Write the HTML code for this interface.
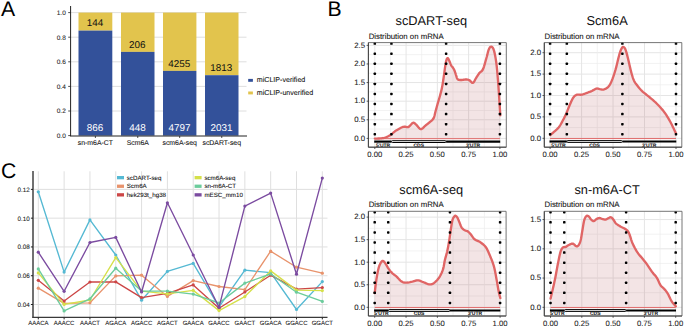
<!DOCTYPE html>
<html><head><meta charset="utf-8"><title>Figure</title>
<style>
html,body{margin:0;padding:0;background:#fff;width:685px;height:327px;overflow:hidden;}
svg{display:block;font-family:"Liberation Sans", sans-serif;text-rendering:geometricPrecision;}
</style></head>
<body>
<svg width="685" height="327" viewBox="0 0 685 327">
<rect x="0" y="0" width="685" height="327" fill="#fff"/>
<text x="0.9" y="15.9" font-size="21.2" fill="#000" text-anchor="start" >A</text>
<text x="327.6" y="15.9" font-size="21.2" fill="#000" text-anchor="start" >B</text>
<text x="1.1" y="178" font-size="21.2" fill="#000" text-anchor="start" >C</text>
<line x1="70.6" y1="111" x2="246.5" y2="111" stroke="#d6d6d6" stroke-width="0.8" />
<line x1="70.6" y1="86.4" x2="246.5" y2="86.4" stroke="#d6d6d6" stroke-width="0.8" />
<line x1="70.6" y1="61.8" x2="246.5" y2="61.8" stroke="#d6d6d6" stroke-width="0.8" />
<line x1="70.6" y1="37.2" x2="246.5" y2="37.2" stroke="#d6d6d6" stroke-width="0.8" />
<line x1="70.6" y1="12.6" x2="246.5" y2="12.6" stroke="#d6d6d6" stroke-width="0.8" />
<rect x="78.5" y="12.6" width="33.8" height="18" fill="#e2c44d" />
<rect x="78.5" y="30.6" width="33.8" height="105" fill="#33519a" />
<text x="95.1" y="131.2" font-size="9.9" fill="#fff" text-anchor="middle" >866</text>
<text x="95" y="26.4" font-size="9.9" fill="#111" text-anchor="middle" >144</text>
<text x="95.4" y="145" font-size="6.9" fill="#111" text-anchor="middle" stroke="#111" stroke-width="0.08" >sn-m6A-CT</text>
<line x1="95.4" y1="136" x2="95.4" y2="138" stroke="#222" stroke-width="0.8" />
<rect x="121" y="12.6" width="33.5" height="39.3" fill="#e2c44d" />
<rect x="121" y="51.9" width="33.5" height="83.7" fill="#33519a" />
<text x="137.45" y="131.2" font-size="9.9" fill="#fff" text-anchor="middle" >448</text>
<text x="137.35" y="47.7" font-size="9.9" fill="#111" text-anchor="middle" >206</text>
<text x="137.75" y="145" font-size="6.9" fill="#111" text-anchor="middle" stroke="#111" stroke-width="0.08" >Scm6A</text>
<line x1="137.75" y1="136" x2="137.75" y2="138" stroke="#222" stroke-width="0.8" />
<rect x="163" y="12.6" width="33.4" height="58.3" fill="#e2c44d" />
<rect x="163" y="70.9" width="33.4" height="64.7" fill="#33519a" />
<text x="179.4" y="131.2" font-size="9.9" fill="#fff" text-anchor="middle" >4797</text>
<text x="179.3" y="66.7" font-size="9.9" fill="#111" text-anchor="middle" >4255</text>
<text x="179.7" y="145" font-size="6.9" fill="#111" text-anchor="middle" stroke="#111" stroke-width="0.08" >scm6A-seq</text>
<line x1="179.7" y1="136" x2="179.7" y2="138" stroke="#222" stroke-width="0.8" />
<rect x="205" y="12.6" width="33.5" height="62.6" fill="#e2c44d" />
<rect x="205" y="75.2" width="33.5" height="60.4" fill="#33519a" />
<text x="221.45" y="131.2" font-size="9.9" fill="#fff" text-anchor="middle" >2031</text>
<text x="221.35" y="71" font-size="9.9" fill="#111" text-anchor="middle" >1813</text>
<text x="221.75" y="145" font-size="6.9" fill="#111" text-anchor="middle" stroke="#111" stroke-width="0.08" >scDART-seq</text>
<line x1="221.75" y1="136" x2="221.75" y2="138" stroke="#222" stroke-width="0.8" />
<line x1="70.6" y1="6" x2="70.6" y2="136.1" stroke="#222" stroke-width="1.0" />
<line x1="70.1" y1="136" x2="247" y2="136" stroke="#222" stroke-width="1.0" />
<line x1="68.2" y1="135.6" x2="70.6" y2="135.6" stroke="#222" stroke-width="0.8" />
<text x="65.8" y="137.9" font-size="6.5" fill="#222" text-anchor="end" stroke="#222" stroke-width="0.08" >0.0</text>
<line x1="68.2" y1="111" x2="70.6" y2="111" stroke="#222" stroke-width="0.8" />
<text x="65.8" y="113.3" font-size="6.5" fill="#222" text-anchor="end" stroke="#222" stroke-width="0.08" >0.2</text>
<line x1="68.2" y1="86.4" x2="70.6" y2="86.4" stroke="#222" stroke-width="0.8" />
<text x="65.8" y="88.7" font-size="6.5" fill="#222" text-anchor="end" stroke="#222" stroke-width="0.08" >0.4</text>
<line x1="68.2" y1="61.8" x2="70.6" y2="61.8" stroke="#222" stroke-width="0.8" />
<text x="65.8" y="64.1" font-size="6.5" fill="#222" text-anchor="end" stroke="#222" stroke-width="0.08" >0.6</text>
<line x1="68.2" y1="37.2" x2="70.6" y2="37.2" stroke="#222" stroke-width="0.8" />
<text x="65.8" y="39.5" font-size="6.5" fill="#222" text-anchor="end" stroke="#222" stroke-width="0.08" >0.8</text>
<line x1="68.2" y1="12.6" x2="70.6" y2="12.6" stroke="#222" stroke-width="0.8" />
<text x="65.8" y="14.9" font-size="6.5" fill="#222" text-anchor="end" stroke="#222" stroke-width="0.08" >1.0</text>
<rect x="248.2" y="78.9" width="4.7" height="2.9" fill="#33519a" />
<rect x="248.2" y="91.5" width="4.7" height="2.9" fill="#e2c44d" />
<text x="256.8" y="82.4" font-size="7.1" fill="#111" text-anchor="start" stroke="#111" stroke-width="0.08" >miCLIP-verified</text>
<text x="256.8" y="95" font-size="7.1" fill="#111" text-anchor="start" stroke="#111" stroke-width="0.08" >miCLIP-unverified</text>
<line x1="33.5" y1="304.5" x2="327.5" y2="304.5" stroke="#dfdfdf" stroke-width="1.0" />
<line x1="33.5" y1="275.72" x2="327.5" y2="275.72" stroke="#dfdfdf" stroke-width="1.0" />
<line x1="33.5" y1="246.94" x2="327.5" y2="246.94" stroke="#dfdfdf" stroke-width="1.0" />
<line x1="33.5" y1="218.16" x2="327.5" y2="218.16" stroke="#dfdfdf" stroke-width="1.0" />
<line x1="33.5" y1="189.38" x2="327.5" y2="189.38" stroke="#dfdfdf" stroke-width="1.0" />
<line x1="38.3" y1="171.3" x2="38.3" y2="317.2" stroke="#dfdfdf" stroke-width="1.0" />
<line x1="64.12" y1="171.3" x2="64.12" y2="317.2" stroke="#dfdfdf" stroke-width="1.0" />
<line x1="89.94" y1="171.3" x2="89.94" y2="317.2" stroke="#dfdfdf" stroke-width="1.0" />
<line x1="115.76" y1="171.3" x2="115.76" y2="317.2" stroke="#dfdfdf" stroke-width="1.0" />
<line x1="141.58" y1="171.3" x2="141.58" y2="317.2" stroke="#dfdfdf" stroke-width="1.0" />
<line x1="167.4" y1="171.3" x2="167.4" y2="317.2" stroke="#dfdfdf" stroke-width="1.0" />
<line x1="193.22" y1="171.3" x2="193.22" y2="317.2" stroke="#dfdfdf" stroke-width="1.0" />
<line x1="219.04" y1="171.3" x2="219.04" y2="317.2" stroke="#dfdfdf" stroke-width="1.0" />
<line x1="244.86" y1="171.3" x2="244.86" y2="317.2" stroke="#dfdfdf" stroke-width="1.0" />
<line x1="270.68" y1="171.3" x2="270.68" y2="317.2" stroke="#dfdfdf" stroke-width="1.0" />
<line x1="296.5" y1="171.3" x2="296.5" y2="317.2" stroke="#dfdfdf" stroke-width="1.0" />
<line x1="322.32" y1="171.3" x2="322.32" y2="317.2" stroke="#dfdfdf" stroke-width="1.0" />
<line x1="33" y1="171" x2="33" y2="317.6" stroke="#6a6a6a" stroke-width="1.9" />
<line x1="32.2" y1="317.4" x2="327.5" y2="317.4" stroke="#3a3a3a" stroke-width="1.2" />
<line x1="30.9" y1="304.5" x2="33" y2="304.5" stroke="#222" stroke-width="1.0" />
<text x="29.8" y="306.9" font-size="6.3" fill="#1a1a1a" text-anchor="end" stroke="#1a1a1a" stroke-width="0.08" >0.04</text>
<line x1="30.9" y1="275.72" x2="33" y2="275.72" stroke="#222" stroke-width="1.0" />
<text x="29.8" y="278.12" font-size="6.3" fill="#1a1a1a" text-anchor="end" stroke="#1a1a1a" stroke-width="0.08" >0.06</text>
<line x1="30.9" y1="246.94" x2="33" y2="246.94" stroke="#222" stroke-width="1.0" />
<text x="29.8" y="249.34" font-size="6.3" fill="#1a1a1a" text-anchor="end" stroke="#1a1a1a" stroke-width="0.08" >0.08</text>
<line x1="30.9" y1="218.16" x2="33" y2="218.16" stroke="#222" stroke-width="1.0" />
<text x="29.8" y="220.56" font-size="6.3" fill="#1a1a1a" text-anchor="end" stroke="#1a1a1a" stroke-width="0.08" >0.10</text>
<line x1="30.9" y1="189.38" x2="33" y2="189.38" stroke="#222" stroke-width="1.0" />
<text x="29.8" y="191.78" font-size="6.3" fill="#1a1a1a" text-anchor="end" stroke="#1a1a1a" stroke-width="0.08" >0.12</text>
<line x1="38.3" y1="317.6" x2="38.3" y2="319.4" stroke="#222" stroke-width="1.0" />
<text x="38.3" y="324.9" font-size="6.0" fill="#1a1a1a" text-anchor="middle" stroke="#1a1a1a" stroke-width="0.08" >AAACA</text>
<line x1="64.12" y1="317.6" x2="64.12" y2="319.4" stroke="#222" stroke-width="1.0" />
<text x="64.12" y="324.9" font-size="6.0" fill="#1a1a1a" text-anchor="middle" stroke="#1a1a1a" stroke-width="0.08" >AAACC</text>
<line x1="89.94" y1="317.6" x2="89.94" y2="319.4" stroke="#222" stroke-width="1.0" />
<text x="89.94" y="324.9" font-size="6.0" fill="#1a1a1a" text-anchor="middle" stroke="#1a1a1a" stroke-width="0.08" >AAACT</text>
<line x1="115.76" y1="317.6" x2="115.76" y2="319.4" stroke="#222" stroke-width="1.0" />
<text x="115.76" y="324.9" font-size="6.0" fill="#1a1a1a" text-anchor="middle" stroke="#1a1a1a" stroke-width="0.08" >AGACA</text>
<line x1="141.58" y1="317.6" x2="141.58" y2="319.4" stroke="#222" stroke-width="1.0" />
<text x="141.58" y="324.9" font-size="6.0" fill="#1a1a1a" text-anchor="middle" stroke="#1a1a1a" stroke-width="0.08" >AGACC</text>
<line x1="167.4" y1="317.6" x2="167.4" y2="319.4" stroke="#222" stroke-width="1.0" />
<text x="167.4" y="324.9" font-size="6.0" fill="#1a1a1a" text-anchor="middle" stroke="#1a1a1a" stroke-width="0.08" >AGACT</text>
<line x1="193.22" y1="317.6" x2="193.22" y2="319.4" stroke="#222" stroke-width="1.0" />
<text x="193.22" y="324.9" font-size="6.0" fill="#1a1a1a" text-anchor="middle" stroke="#1a1a1a" stroke-width="0.08" >GAACA</text>
<line x1="219.04" y1="317.6" x2="219.04" y2="319.4" stroke="#222" stroke-width="1.0" />
<text x="219.04" y="324.9" font-size="6.0" fill="#1a1a1a" text-anchor="middle" stroke="#1a1a1a" stroke-width="0.08" >GAACC</text>
<line x1="244.86" y1="317.6" x2="244.86" y2="319.4" stroke="#222" stroke-width="1.0" />
<text x="244.86" y="324.9" font-size="6.0" fill="#1a1a1a" text-anchor="middle" stroke="#1a1a1a" stroke-width="0.08" >GAACT</text>
<line x1="270.68" y1="317.6" x2="270.68" y2="319.4" stroke="#222" stroke-width="1.0" />
<text x="270.68" y="324.9" font-size="6.0" fill="#1a1a1a" text-anchor="middle" stroke="#1a1a1a" stroke-width="0.08" >GGACA</text>
<line x1="296.5" y1="317.6" x2="296.5" y2="319.4" stroke="#222" stroke-width="1.0" />
<text x="296.5" y="324.9" font-size="6.0" fill="#1a1a1a" text-anchor="middle" stroke="#1a1a1a" stroke-width="0.08" >GGACC</text>
<line x1="322.32" y1="317.6" x2="322.32" y2="319.4" stroke="#222" stroke-width="1.0" />
<text x="322.32" y="324.9" font-size="6.0" fill="#1a1a1a" text-anchor="middle" stroke="#1a1a1a" stroke-width="0.08" >GGACT</text>
<polyline points="38.3,191.8 64.12,272.1 89.94,219.9 115.76,255 141.58,300.2 167.4,271.4 193.22,263.4 219.04,306.8 244.86,270.2 270.68,272.7 296.5,309.5 322.32,281.6" fill="none" stroke="#55b9d3" stroke-width="1.35" stroke-linejoin="round"/>
<circle cx="38.3" cy="191.8" r="1.6" fill="#55b9d3"/>
<circle cx="64.12" cy="272.1" r="1.6" fill="#55b9d3"/>
<circle cx="89.94" cy="219.9" r="1.6" fill="#55b9d3"/>
<circle cx="115.76" cy="255" r="1.6" fill="#55b9d3"/>
<circle cx="141.58" cy="300.2" r="1.6" fill="#55b9d3"/>
<circle cx="167.4" cy="271.4" r="1.6" fill="#55b9d3"/>
<circle cx="193.22" cy="263.4" r="1.6" fill="#55b9d3"/>
<circle cx="219.04" cy="306.8" r="1.6" fill="#55b9d3"/>
<circle cx="244.86" cy="270.2" r="1.6" fill="#55b9d3"/>
<circle cx="270.68" cy="272.7" r="1.6" fill="#55b9d3"/>
<circle cx="296.5" cy="309.5" r="1.6" fill="#55b9d3"/>
<circle cx="322.32" cy="281.6" r="1.6" fill="#55b9d3"/>
<polyline points="38.3,288.2 64.12,303.4 89.94,302.8 115.76,275.9 141.58,275.2 167.4,296.4 193.22,280.6 219.04,286.5 244.86,289.7 270.68,251.2 296.5,267.2 322.32,273.2" fill="none" stroke="#e8936c" stroke-width="1.35" stroke-linejoin="round"/>
<circle cx="38.3" cy="288.2" r="1.6" fill="#e8936c"/>
<circle cx="64.12" cy="303.4" r="1.6" fill="#e8936c"/>
<circle cx="89.94" cy="302.8" r="1.6" fill="#e8936c"/>
<circle cx="115.76" cy="275.9" r="1.6" fill="#e8936c"/>
<circle cx="141.58" cy="275.2" r="1.6" fill="#e8936c"/>
<circle cx="167.4" cy="296.4" r="1.6" fill="#e8936c"/>
<circle cx="193.22" cy="280.6" r="1.6" fill="#e8936c"/>
<circle cx="219.04" cy="286.5" r="1.6" fill="#e8936c"/>
<circle cx="244.86" cy="289.7" r="1.6" fill="#e8936c"/>
<circle cx="270.68" cy="251.2" r="1.6" fill="#e8936c"/>
<circle cx="296.5" cy="267.2" r="1.6" fill="#e8936c"/>
<circle cx="322.32" cy="273.2" r="1.6" fill="#e8936c"/>
<polyline points="38.3,280.3 64.12,301 89.94,282 115.76,281.8 141.58,297.6 167.4,293.4 193.22,284.9 219.04,308.3 244.86,292 270.68,275.2 296.5,289.2 322.32,287.6" fill="none" stroke="#cc4646" stroke-width="1.35" stroke-linejoin="round"/>
<circle cx="38.3" cy="280.3" r="1.6" fill="#cc4646"/>
<circle cx="64.12" cy="301" r="1.6" fill="#cc4646"/>
<circle cx="89.94" cy="282" r="1.6" fill="#cc4646"/>
<circle cx="115.76" cy="281.8" r="1.6" fill="#cc4646"/>
<circle cx="141.58" cy="297.6" r="1.6" fill="#cc4646"/>
<circle cx="167.4" cy="293.4" r="1.6" fill="#cc4646"/>
<circle cx="193.22" cy="284.9" r="1.6" fill="#cc4646"/>
<circle cx="219.04" cy="308.3" r="1.6" fill="#cc4646"/>
<circle cx="244.86" cy="292" r="1.6" fill="#cc4646"/>
<circle cx="270.68" cy="275.2" r="1.6" fill="#cc4646"/>
<circle cx="296.5" cy="289.2" r="1.6" fill="#cc4646"/>
<circle cx="322.32" cy="287.6" r="1.6" fill="#cc4646"/>
<polyline points="38.3,272.9 64.12,304.4 89.94,300 115.76,257.6 141.58,291.2 167.4,293.9 193.22,290.4 219.04,310.6 244.86,296.6 270.68,270.9 296.5,290.1 322.32,290.6" fill="none" stroke="#d5e04a" stroke-width="1.35" stroke-linejoin="round"/>
<circle cx="38.3" cy="272.9" r="1.6" fill="#d5e04a"/>
<circle cx="64.12" cy="304.4" r="1.6" fill="#d5e04a"/>
<circle cx="89.94" cy="300" r="1.6" fill="#d5e04a"/>
<circle cx="115.76" cy="257.6" r="1.6" fill="#d5e04a"/>
<circle cx="141.58" cy="291.2" r="1.6" fill="#d5e04a"/>
<circle cx="167.4" cy="293.9" r="1.6" fill="#d5e04a"/>
<circle cx="193.22" cy="290.4" r="1.6" fill="#d5e04a"/>
<circle cx="219.04" cy="310.6" r="1.6" fill="#d5e04a"/>
<circle cx="244.86" cy="296.6" r="1.6" fill="#d5e04a"/>
<circle cx="270.68" cy="270.9" r="1.6" fill="#d5e04a"/>
<circle cx="296.5" cy="290.1" r="1.6" fill="#d5e04a"/>
<circle cx="322.32" cy="290.6" r="1.6" fill="#d5e04a"/>
<polyline points="38.3,268.9 64.12,310.9 89.94,298.8 115.76,268.2 141.58,291 167.4,291.1 193.22,294.1 219.04,303 244.86,283.1 270.68,274 296.5,292.2 322.32,301.4" fill="none" stroke="#6ccc9c" stroke-width="1.35" stroke-linejoin="round"/>
<circle cx="38.3" cy="268.9" r="1.6" fill="#6ccc9c"/>
<circle cx="64.12" cy="310.9" r="1.6" fill="#6ccc9c"/>
<circle cx="89.94" cy="298.8" r="1.6" fill="#6ccc9c"/>
<circle cx="115.76" cy="268.2" r="1.6" fill="#6ccc9c"/>
<circle cx="141.58" cy="291" r="1.6" fill="#6ccc9c"/>
<circle cx="167.4" cy="291.1" r="1.6" fill="#6ccc9c"/>
<circle cx="193.22" cy="294.1" r="1.6" fill="#6ccc9c"/>
<circle cx="219.04" cy="303" r="1.6" fill="#6ccc9c"/>
<circle cx="244.86" cy="283.1" r="1.6" fill="#6ccc9c"/>
<circle cx="270.68" cy="274" r="1.6" fill="#6ccc9c"/>
<circle cx="296.5" cy="292.2" r="1.6" fill="#6ccc9c"/>
<circle cx="322.32" cy="301.4" r="1.6" fill="#6ccc9c"/>
<polyline points="38.3,252.2 64.12,291.3 89.94,242.5 115.76,237.4 141.58,292 167.4,202.8 193.22,255 219.04,307.2 244.86,206.1 270.68,193.1 296.5,274.2 322.32,178.1" fill="none" stroke="#7b4ba0" stroke-width="1.35" stroke-linejoin="round"/>
<circle cx="38.3" cy="252.2" r="1.6" fill="#7b4ba0"/>
<circle cx="64.12" cy="291.3" r="1.6" fill="#7b4ba0"/>
<circle cx="89.94" cy="242.5" r="1.6" fill="#7b4ba0"/>
<circle cx="115.76" cy="237.4" r="1.6" fill="#7b4ba0"/>
<circle cx="141.58" cy="292" r="1.6" fill="#7b4ba0"/>
<circle cx="167.4" cy="202.8" r="1.6" fill="#7b4ba0"/>
<circle cx="193.22" cy="255" r="1.6" fill="#7b4ba0"/>
<circle cx="219.04" cy="307.2" r="1.6" fill="#7b4ba0"/>
<circle cx="244.86" cy="206.1" r="1.6" fill="#7b4ba0"/>
<circle cx="270.68" cy="193.1" r="1.6" fill="#7b4ba0"/>
<circle cx="296.5" cy="274.2" r="1.6" fill="#7b4ba0"/>
<circle cx="322.32" cy="178.1" r="1.6" fill="#7b4ba0"/>
<rect x="117" y="176" width="7" height="3.3" fill="#55b9d3" />
<text x="126.8" y="179.7" font-size="6.2" fill="#111" text-anchor="start" stroke="#111" stroke-width="0.08" >scDART-seq</text>
<rect x="117" y="184.6" width="7" height="3.3" fill="#e8936c" />
<text x="126.8" y="188.3" font-size="6.2" fill="#111" text-anchor="start" stroke="#111" stroke-width="0.08" >Scm6A</text>
<rect x="117" y="193.2" width="7" height="3.3" fill="#cc4646" />
<text x="126.8" y="196.9" font-size="6.2" fill="#111" text-anchor="start" stroke="#111" stroke-width="0.08" >hek293t_hg38</text>
<rect x="194.6" y="176" width="7" height="3.3" fill="#d5e04a" />
<text x="204.4" y="179.7" font-size="6.2" fill="#111" text-anchor="start" stroke="#111" stroke-width="0.08" >scm6A-seq</text>
<rect x="194.6" y="184.6" width="7" height="3.3" fill="#6ccc9c" />
<text x="204.4" y="188.3" font-size="6.2" fill="#111" text-anchor="start" stroke="#111" stroke-width="0.08" >sn-m6A-CT</text>
<rect x="194.6" y="193.2" width="7" height="3.3" fill="#7b4ba0" />
<text x="204.4" y="196.9" font-size="6.2" fill="#111" text-anchor="start" stroke="#111" stroke-width="0.08" >mESC_mm10</text>
<text x="431.35" y="24.6" font-size="12.8" fill="#111" text-anchor="middle" >scDART-seq</text>
<text x="368.7" y="38.6" font-size="7.8" fill="#111" text-anchor="start" stroke="#111" stroke-width="0.08" >Distribution on mRNA</text>
<line x1="368.4" y1="138.4" x2="506.3" y2="138.4" stroke="#e5e5e5" stroke-width="1.0" />
<line x1="368.4" y1="129.09" x2="506.3" y2="129.09" stroke="#ececec" stroke-width="0.7" />
<line x1="368.4" y1="119.79" x2="506.3" y2="119.79" stroke="#e5e5e5" stroke-width="1.0" />
<line x1="368.4" y1="110.49" x2="506.3" y2="110.49" stroke="#ececec" stroke-width="0.7" />
<line x1="368.4" y1="101.18" x2="506.3" y2="101.18" stroke="#e5e5e5" stroke-width="1.0" />
<line x1="368.4" y1="91.88" x2="506.3" y2="91.88" stroke="#ececec" stroke-width="0.7" />
<line x1="368.4" y1="82.57" x2="506.3" y2="82.57" stroke="#e5e5e5" stroke-width="1.0" />
<line x1="368.4" y1="73.27" x2="506.3" y2="73.27" stroke="#ececec" stroke-width="0.7" />
<line x1="368.4" y1="63.96" x2="506.3" y2="63.96" stroke="#e5e5e5" stroke-width="1.0" />
<line x1="368.4" y1="54.66" x2="506.3" y2="54.66" stroke="#ececec" stroke-width="0.7" />
<line x1="368.4" y1="45.35" x2="506.3" y2="45.35" stroke="#e5e5e5" stroke-width="1.0" />
<line x1="374.8" y1="42.6" x2="374.8" y2="147.2" stroke="#e5e5e5" stroke-width="1.0" />
<line x1="390.44" y1="42.6" x2="390.44" y2="147.2" stroke="#ececec" stroke-width="0.7" />
<line x1="406.07" y1="42.6" x2="406.07" y2="147.2" stroke="#e5e5e5" stroke-width="1.0" />
<line x1="421.71" y1="42.6" x2="421.71" y2="147.2" stroke="#ececec" stroke-width="0.7" />
<line x1="437.35" y1="42.6" x2="437.35" y2="147.2" stroke="#e5e5e5" stroke-width="1.0" />
<line x1="452.99" y1="42.6" x2="452.99" y2="147.2" stroke="#ececec" stroke-width="0.7" />
<line x1="468.62" y1="42.6" x2="468.62" y2="147.2" stroke="#e5e5e5" stroke-width="1.0" />
<line x1="484.26" y1="42.6" x2="484.26" y2="147.2" stroke="#ececec" stroke-width="0.7" />
<line x1="499.9" y1="42.6" x2="499.9" y2="147.2" stroke="#e5e5e5" stroke-width="1.0" />
<path d="M374.8,138.6 L375.37,138.59 L376.15,138.57 L377.08,138.55 L378.08,138.52 L379.08,138.47 L380,138.4 L380.85,138.32 L381.7,138.25 L382.54,138.16 L383.39,138.03 L384.24,137.85 L385.1,137.6 L385.97,137.28 L386.84,136.9 L387.72,136.47 L388.6,135.99 L389.5,135.46 L390.4,134.9 L391.3,134.27 L392.18,133.57 L393.07,132.82 L394,132.06 L394.96,131.31 L396,130.6 L397.14,129.89 L398.39,129.15 L399.68,128.42 L400.97,127.75 L402.19,127.2 L403.3,126.8 L404.28,126.65 L405.18,126.73 L406.02,126.92 L406.82,127.11 L407.6,127.17 L408.4,127 L409.21,126.48 L410.02,125.7 L410.82,124.79 L411.59,123.91 L412.32,123.2 L413,122.8 L413.6,122.73 L414.12,122.89 L414.6,123.21 L415.08,123.66 L415.6,124.17 L416.2,124.7 L416.89,125.38 L417.63,126.27 L418.41,127.24 L419.21,128.13 L420.02,128.79 L420.8,129.1 L421.57,128.98 L422.33,128.53 L423.1,127.86 L423.87,127.07 L424.63,126.29 L425.4,125.6 L426.18,124.99 L426.97,124.38 L427.76,123.76 L428.54,123.14 L429.29,122.52 L430,121.9 L430.68,121.33 L431.33,120.81 L431.96,120.29 L432.55,119.71 L433.1,119.04 L433.6,118.2 L434.04,117.17 L434.41,115.98 L434.74,114.69 L435.06,113.34 L435.37,111.99 L435.7,110.7 L436.05,109.45 L436.4,108.2 L436.74,106.95 L437.09,105.7 L437.44,104.45 L437.8,103.2 L438.16,101.96 L438.53,100.74 L438.9,99.52 L439.27,98.28 L439.64,97.01 L440,95.7 L440.36,94.35 L440.72,92.99 L441.08,91.6 L441.43,90.16 L441.77,88.67 L442.1,87.1 L442.41,85.44 L442.7,83.69 L442.99,81.88 L443.26,80.04 L443.53,78.21 L443.8,76.4 L444.07,74.56 L444.33,72.66 L444.58,70.75 L444.83,68.91 L445.07,67.21 L445.3,65.7 L445.52,64.39 L445.72,63.22 L445.91,62.18 L446.1,61.27 L446.3,60.48 L446.5,59.8 L446.71,59.23 L446.91,58.77 L447.12,58.44 L447.33,58.23 L447.56,58.14 L447.8,58.2 L448.06,58.43 L448.34,58.85 L448.63,59.39 L448.92,60.02 L449.21,60.67 L449.5,61.3 L449.78,61.95 L450.07,62.66 L450.35,63.41 L450.63,64.14 L450.92,64.82 L451.2,65.4 L451.48,65.87 L451.77,66.24 L452.06,66.57 L452.34,66.88 L452.62,67.21 L452.9,67.6 L453.17,68.03 L453.44,68.48 L453.71,68.94 L453.97,69.44 L454.23,69.99 L454.5,70.6 L454.77,71.29 L455.03,72.07 L455.3,72.89 L455.57,73.72 L455.83,74.54 L456.1,75.3 L456.35,76.05 L456.57,76.81 L456.79,77.55 L457.03,78.24 L457.33,78.83 L457.7,79.3 L458.14,79.62 L458.64,79.82 L459.19,79.93 L459.78,79.98 L460.42,79.99 L461.1,80 L461.86,79.97 L462.71,79.87 L463.6,79.74 L464.49,79.61 L465.34,79.52 L466.1,79.5 L466.76,79.54 L467.35,79.6 L467.9,79.71 L468.43,79.85 L468.95,80.05 L469.5,80.3 L470.07,80.72 L470.64,81.32 L471.21,81.97 L471.77,82.54 L472.34,82.89 L472.9,82.9 L473.45,82.49 L474,81.77 L474.55,80.83 L475.1,79.78 L475.65,78.73 L476.2,77.8 L476.76,76.94 L477.33,76.07 L477.9,75.19 L478.47,74.34 L479.04,73.54 L479.6,72.8 L480.15,72.23 L480.7,71.83 L481.25,71.47 L481.8,71.03 L482.35,70.38 L482.9,69.4 L483.47,68 L484.06,66.26 L484.65,64.31 L485.23,62.28 L485.78,60.3 L486.3,58.5 L486.77,56.81 L487.2,55.1 L487.61,53.44 L488,51.89 L488.39,50.53 L488.8,49.4 L489.22,48.51 L489.63,47.79 L490.04,47.26 L490.46,46.9 L490.88,46.71 L491.3,46.7 L491.73,46.82 L492.16,47.08 L492.6,47.51 L493.04,48.16 L493.47,49.07 L493.9,50.3 L494.33,51.88 L494.77,53.79 L495.21,55.97 L495.63,58.35 L496.03,60.88 L496.4,63.5 L496.74,66.31 L497.05,69.37 L497.34,72.58 L497.61,75.82 L497.86,79 L498.1,82 L498.32,84.8 L498.51,87.47 L498.69,90.08 L498.86,92.67 L499.02,95.29 L499.2,98 L499.4,101 L499.61,104.28 L499.82,107.6 L500.01,110.7 L500.18,113.31 L500.3,115.2 L500.3,138.4 L374.8,138.4 Z" fill="#af4b52" fill-opacity="0.15" stroke="none"/>
<line x1="374.8" y1="138.7" x2="499.9" y2="138.7" stroke="#e06565" stroke-width="1.0" />
<path d="M374.8,138.6 L375.37,138.59 L376.15,138.57 L377.08,138.55 L378.08,138.52 L379.08,138.47 L380,138.4 L380.85,138.32 L381.7,138.25 L382.54,138.16 L383.39,138.03 L384.24,137.85 L385.1,137.6 L385.97,137.28 L386.84,136.9 L387.72,136.47 L388.6,135.99 L389.5,135.46 L390.4,134.9 L391.3,134.27 L392.18,133.57 L393.07,132.82 L394,132.06 L394.96,131.31 L396,130.6 L397.14,129.89 L398.39,129.15 L399.68,128.42 L400.97,127.75 L402.19,127.2 L403.3,126.8 L404.28,126.65 L405.18,126.73 L406.02,126.92 L406.82,127.11 L407.6,127.17 L408.4,127 L409.21,126.48 L410.02,125.7 L410.82,124.79 L411.59,123.91 L412.32,123.2 L413,122.8 L413.6,122.73 L414.12,122.89 L414.6,123.21 L415.08,123.66 L415.6,124.17 L416.2,124.7 L416.89,125.38 L417.63,126.27 L418.41,127.24 L419.21,128.13 L420.02,128.79 L420.8,129.1 L421.57,128.98 L422.33,128.53 L423.1,127.86 L423.87,127.07 L424.63,126.29 L425.4,125.6 L426.18,124.99 L426.97,124.38 L427.76,123.76 L428.54,123.14 L429.29,122.52 L430,121.9 L430.68,121.33 L431.33,120.81 L431.96,120.29 L432.55,119.71 L433.1,119.04 L433.6,118.2 L434.04,117.17 L434.41,115.98 L434.74,114.69 L435.06,113.34 L435.37,111.99 L435.7,110.7 L436.05,109.45 L436.4,108.2 L436.74,106.95 L437.09,105.7 L437.44,104.45 L437.8,103.2 L438.16,101.96 L438.53,100.74 L438.9,99.52 L439.27,98.28 L439.64,97.01 L440,95.7 L440.36,94.35 L440.72,92.99 L441.08,91.6 L441.43,90.16 L441.77,88.67 L442.1,87.1 L442.41,85.44 L442.7,83.69 L442.99,81.88 L443.26,80.04 L443.53,78.21 L443.8,76.4 L444.07,74.56 L444.33,72.66 L444.58,70.75 L444.83,68.91 L445.07,67.21 L445.3,65.7 L445.52,64.39 L445.72,63.22 L445.91,62.18 L446.1,61.27 L446.3,60.48 L446.5,59.8 L446.71,59.23 L446.91,58.77 L447.12,58.44 L447.33,58.23 L447.56,58.14 L447.8,58.2 L448.06,58.43 L448.34,58.85 L448.63,59.39 L448.92,60.02 L449.21,60.67 L449.5,61.3 L449.78,61.95 L450.07,62.66 L450.35,63.41 L450.63,64.14 L450.92,64.82 L451.2,65.4 L451.48,65.87 L451.77,66.24 L452.06,66.57 L452.34,66.88 L452.62,67.21 L452.9,67.6 L453.17,68.03 L453.44,68.48 L453.71,68.94 L453.97,69.44 L454.23,69.99 L454.5,70.6 L454.77,71.29 L455.03,72.07 L455.3,72.89 L455.57,73.72 L455.83,74.54 L456.1,75.3 L456.35,76.05 L456.57,76.81 L456.79,77.55 L457.03,78.24 L457.33,78.83 L457.7,79.3 L458.14,79.62 L458.64,79.82 L459.19,79.93 L459.78,79.98 L460.42,79.99 L461.1,80 L461.86,79.97 L462.71,79.87 L463.6,79.74 L464.49,79.61 L465.34,79.52 L466.1,79.5 L466.76,79.54 L467.35,79.6 L467.9,79.71 L468.43,79.85 L468.95,80.05 L469.5,80.3 L470.07,80.72 L470.64,81.32 L471.21,81.97 L471.77,82.54 L472.34,82.89 L472.9,82.9 L473.45,82.49 L474,81.77 L474.55,80.83 L475.1,79.78 L475.65,78.73 L476.2,77.8 L476.76,76.94 L477.33,76.07 L477.9,75.19 L478.47,74.34 L479.04,73.54 L479.6,72.8 L480.15,72.23 L480.7,71.83 L481.25,71.47 L481.8,71.03 L482.35,70.38 L482.9,69.4 L483.47,68 L484.06,66.26 L484.65,64.31 L485.23,62.28 L485.78,60.3 L486.3,58.5 L486.77,56.81 L487.2,55.1 L487.61,53.44 L488,51.89 L488.39,50.53 L488.8,49.4 L489.22,48.51 L489.63,47.79 L490.04,47.26 L490.46,46.9 L490.88,46.71 L491.3,46.7 L491.73,46.82 L492.16,47.08 L492.6,47.51 L493.04,48.16 L493.47,49.07 L493.9,50.3 L494.33,51.88 L494.77,53.79 L495.21,55.97 L495.63,58.35 L496.03,60.88 L496.4,63.5 L496.74,66.31 L497.05,69.37 L497.34,72.58 L497.61,75.82 L497.86,79 L498.1,82 L498.32,84.8 L498.51,87.47 L498.69,90.08 L498.86,92.67 L499.02,95.29 L499.2,98 L499.4,101 L499.61,104.28 L499.82,107.6 L500.01,110.7 L500.18,113.31 L500.3,115.2" fill="none" stroke="#e06565" stroke-width="2.35" stroke-linejoin="round" stroke-linecap="round"/>
<rect x="373.55" y="42.35" width="2.5" height="2.5" rx="0.7" fill="#000"/>
<rect x="373.55" y="52.42" width="2.5" height="2.5" rx="0.7" fill="#000"/>
<rect x="373.55" y="62.49" width="2.5" height="2.5" rx="0.7" fill="#000"/>
<rect x="373.55" y="72.56" width="2.5" height="2.5" rx="0.7" fill="#000"/>
<rect x="373.55" y="82.63" width="2.5" height="2.5" rx="0.7" fill="#000"/>
<rect x="373.55" y="92.7" width="2.5" height="2.5" rx="0.7" fill="#000"/>
<rect x="373.55" y="102.77" width="2.5" height="2.5" rx="0.7" fill="#000"/>
<rect x="373.55" y="112.84" width="2.5" height="2.5" rx="0.7" fill="#000"/>
<rect x="373.55" y="122.91" width="2.5" height="2.5" rx="0.7" fill="#000"/>
<rect x="373.55" y="132.98" width="2.5" height="2.5" rx="0.7" fill="#000"/>
<rect x="390.19" y="42.35" width="2.5" height="2.5" rx="0.7" fill="#000"/>
<rect x="390.19" y="52.42" width="2.5" height="2.5" rx="0.7" fill="#000"/>
<rect x="390.19" y="62.49" width="2.5" height="2.5" rx="0.7" fill="#000"/>
<rect x="390.19" y="72.56" width="2.5" height="2.5" rx="0.7" fill="#000"/>
<rect x="390.19" y="82.63" width="2.5" height="2.5" rx="0.7" fill="#000"/>
<rect x="390.19" y="92.7" width="2.5" height="2.5" rx="0.7" fill="#000"/>
<rect x="390.19" y="102.77" width="2.5" height="2.5" rx="0.7" fill="#000"/>
<rect x="390.19" y="112.84" width="2.5" height="2.5" rx="0.7" fill="#000"/>
<rect x="390.19" y="122.91" width="2.5" height="2.5" rx="0.7" fill="#000"/>
<rect x="390.19" y="132.98" width="2.5" height="2.5" rx="0.7" fill="#000"/>
<rect x="444.86" y="42.35" width="2.5" height="2.5" rx="0.7" fill="#000"/>
<rect x="444.86" y="52.42" width="2.5" height="2.5" rx="0.7" fill="#000"/>
<rect x="444.86" y="62.49" width="2.5" height="2.5" rx="0.7" fill="#000"/>
<rect x="444.86" y="72.56" width="2.5" height="2.5" rx="0.7" fill="#000"/>
<rect x="444.86" y="82.63" width="2.5" height="2.5" rx="0.7" fill="#000"/>
<rect x="444.86" y="92.7" width="2.5" height="2.5" rx="0.7" fill="#000"/>
<rect x="444.86" y="102.77" width="2.5" height="2.5" rx="0.7" fill="#000"/>
<rect x="444.86" y="112.84" width="2.5" height="2.5" rx="0.7" fill="#000"/>
<rect x="444.86" y="122.91" width="2.5" height="2.5" rx="0.7" fill="#000"/>
<rect x="444.86" y="132.98" width="2.5" height="2.5" rx="0.7" fill="#000"/>
<rect x="498.65" y="42.35" width="2.5" height="2.5" rx="0.7" fill="#000"/>
<rect x="498.65" y="52.42" width="2.5" height="2.5" rx="0.7" fill="#000"/>
<rect x="498.65" y="62.49" width="2.5" height="2.5" rx="0.7" fill="#000"/>
<rect x="498.65" y="72.56" width="2.5" height="2.5" rx="0.7" fill="#000"/>
<rect x="498.65" y="82.63" width="2.5" height="2.5" rx="0.7" fill="#000"/>
<rect x="498.65" y="92.7" width="2.5" height="2.5" rx="0.7" fill="#000"/>
<rect x="498.65" y="102.77" width="2.5" height="2.5" rx="0.7" fill="#000"/>
<rect x="498.65" y="112.84" width="2.5" height="2.5" rx="0.7" fill="#000"/>
<rect x="498.65" y="122.91" width="2.5" height="2.5" rx="0.7" fill="#000"/>
<rect x="498.65" y="132.98" width="2.5" height="2.5" rx="0.7" fill="#000"/>
<line x1="374.2" y1="141.6" x2="391.44" y2="141.6" stroke="#000" stroke-width="2.2" />
<line x1="446.11" y1="141.6" x2="500.2" y2="141.6" stroke="#000" stroke-width="2.2" />
<rect x="391.44" y="140.7" width="54.67" height="1.8" rx="0.9" fill="#fff" stroke="#000" stroke-width="1.0"/>
<text x="383.12" y="146.6" font-size="5.0" fill="#222" text-anchor="middle" stroke="#222" stroke-width="0.08" font-weight="bold">5'UTR</text>
<text x="418.77" y="146.6" font-size="5.0" fill="#222" text-anchor="middle" stroke="#222" stroke-width="0.08" font-weight="bold">CDS</text>
<text x="473" y="146.6" font-size="5.0" fill="#222" text-anchor="middle" stroke="#222" stroke-width="0.08" font-weight="bold">3'UTR</text>
<path d="M368.4,147.2 L368.4,42.6 L506.3,42.6 L506.3,147.2 Z" fill="none" stroke="#666" stroke-width="0.9"/>
<line x1="368.4" y1="147.2" x2="506.3" y2="147.2" stroke="#444" stroke-width="1.0" />
<line x1="368.4" y1="42.6" x2="368.4" y2="147.2" stroke="#444" stroke-width="1.0" />
<line x1="366.6" y1="138.4" x2="368.4" y2="138.4" stroke="#333" stroke-width="0.8" />
<text x="365.1" y="140.7" font-size="7.8" fill="#222" text-anchor="end" stroke="#222" stroke-width="0.08" >0.0</text>
<line x1="366.6" y1="119.79" x2="368.4" y2="119.79" stroke="#333" stroke-width="0.8" />
<text x="365.1" y="122.09" font-size="7.8" fill="#222" text-anchor="end" stroke="#222" stroke-width="0.08" >0.5</text>
<line x1="366.6" y1="101.18" x2="368.4" y2="101.18" stroke="#333" stroke-width="0.8" />
<text x="365.1" y="103.48" font-size="7.8" fill="#222" text-anchor="end" stroke="#222" stroke-width="0.08" >1.0</text>
<line x1="366.6" y1="82.57" x2="368.4" y2="82.57" stroke="#333" stroke-width="0.8" />
<text x="365.1" y="84.87" font-size="7.8" fill="#222" text-anchor="end" stroke="#222" stroke-width="0.08" >1.5</text>
<line x1="366.6" y1="63.96" x2="368.4" y2="63.96" stroke="#333" stroke-width="0.8" />
<text x="365.1" y="66.26" font-size="7.8" fill="#222" text-anchor="end" stroke="#222" stroke-width="0.08" >2.0</text>
<line x1="366.6" y1="45.35" x2="368.4" y2="45.35" stroke="#333" stroke-width="0.8" />
<text x="365.1" y="47.65" font-size="7.8" fill="#222" text-anchor="end" stroke="#222" stroke-width="0.08" >2.5</text>
<line x1="374.8" y1="147.2" x2="374.8" y2="149" stroke="#333" stroke-width="0.8" />
<text x="374.8" y="156.9" font-size="7.7" fill="#222" text-anchor="middle" stroke="#222" stroke-width="0.08" >0.00</text>
<line x1="406.07" y1="147.2" x2="406.07" y2="149" stroke="#333" stroke-width="0.8" />
<text x="406.07" y="156.9" font-size="7.7" fill="#222" text-anchor="middle" stroke="#222" stroke-width="0.08" >0.25</text>
<line x1="437.35" y1="147.2" x2="437.35" y2="149" stroke="#333" stroke-width="0.8" />
<text x="437.35" y="156.9" font-size="7.7" fill="#222" text-anchor="middle" stroke="#222" stroke-width="0.08" >0.50</text>
<line x1="468.62" y1="147.2" x2="468.62" y2="149" stroke="#333" stroke-width="0.8" />
<text x="468.62" y="156.9" font-size="7.7" fill="#222" text-anchor="middle" stroke="#222" stroke-width="0.08" >0.75</text>
<line x1="499.9" y1="147.2" x2="499.9" y2="149" stroke="#333" stroke-width="0.8" />
<text x="499.9" y="156.9" font-size="7.7" fill="#222" text-anchor="middle" stroke="#222" stroke-width="0.08" >1.00</text>
<text x="607.05" y="24.6" font-size="12.8" fill="#111" text-anchor="middle" >Scm6A</text>
<text x="544.6" y="38.6" font-size="7.8" fill="#111" text-anchor="start" stroke="#111" stroke-width="0.08" >Distribution on mRNA</text>
<line x1="544.3" y1="138.3" x2="681.8" y2="138.3" stroke="#e5e5e5" stroke-width="1.0" />
<line x1="544.3" y1="127.6" x2="681.8" y2="127.6" stroke="#ececec" stroke-width="0.7" />
<line x1="544.3" y1="116.9" x2="681.8" y2="116.9" stroke="#e5e5e5" stroke-width="1.0" />
<line x1="544.3" y1="106.2" x2="681.8" y2="106.2" stroke="#ececec" stroke-width="0.7" />
<line x1="544.3" y1="95.5" x2="681.8" y2="95.5" stroke="#e5e5e5" stroke-width="1.0" />
<line x1="544.3" y1="84.8" x2="681.8" y2="84.8" stroke="#ececec" stroke-width="0.7" />
<line x1="544.3" y1="74.1" x2="681.8" y2="74.1" stroke="#e5e5e5" stroke-width="1.0" />
<line x1="544.3" y1="63.4" x2="681.8" y2="63.4" stroke="#ececec" stroke-width="0.7" />
<line x1="544.3" y1="52.7" x2="681.8" y2="52.7" stroke="#e5e5e5" stroke-width="1.0" />
<line x1="550.1" y1="42.6" x2="550.1" y2="147.2" stroke="#e5e5e5" stroke-width="1.0" />
<line x1="565.84" y1="42.6" x2="565.84" y2="147.2" stroke="#ececec" stroke-width="0.7" />
<line x1="581.58" y1="42.6" x2="581.58" y2="147.2" stroke="#e5e5e5" stroke-width="1.0" />
<line x1="597.31" y1="42.6" x2="597.31" y2="147.2" stroke="#ececec" stroke-width="0.7" />
<line x1="613.05" y1="42.6" x2="613.05" y2="147.2" stroke="#e5e5e5" stroke-width="1.0" />
<line x1="628.79" y1="42.6" x2="628.79" y2="147.2" stroke="#ececec" stroke-width="0.7" />
<line x1="644.52" y1="42.6" x2="644.52" y2="147.2" stroke="#e5e5e5" stroke-width="1.0" />
<line x1="660.26" y1="42.6" x2="660.26" y2="147.2" stroke="#ececec" stroke-width="0.7" />
<line x1="676" y1="42.6" x2="676" y2="147.2" stroke="#e5e5e5" stroke-width="1.0" />
<path d="M550.3,135 L550.72,134.65 L551.29,134.19 L551.96,133.62 L552.7,133 L553.46,132.35 L554.2,131.7 L554.94,131.05 L555.72,130.37 L556.52,129.67 L557.31,128.93 L558.08,128.14 L558.8,127.3 L559.46,126.41 L560.07,125.47 L560.66,124.49 L561.23,123.46 L561.81,122.4 L562.4,121.3 L563.01,120.17 L563.63,119 L564.24,117.79 L564.86,116.54 L565.48,115.25 L566.1,113.9 L566.72,112.46 L567.34,110.93 L567.96,109.35 L568.57,107.77 L569.19,106.24 L569.8,104.8 L570.4,103.41 L571,102.03 L571.6,100.7 L572.2,99.46 L572.8,98.34 L573.4,97.4 L574,96.65 L574.59,96.05 L575.19,95.59 L575.8,95.23 L576.43,94.94 L577.1,94.7 L577.8,94.57 L578.53,94.57 L579.29,94.65 L580.07,94.74 L580.87,94.78 L581.7,94.7 L582.58,94.49 L583.5,94.2 L584.45,93.86 L585.4,93.5 L586.33,93.13 L587.2,92.8 L588.02,92.5 L588.8,92.21 L589.56,91.93 L590.3,91.64 L591.04,91.33 L591.8,91 L592.58,90.6 L593.37,90.13 L594.16,89.65 L594.94,89.2 L595.69,88.83 L596.4,88.6 L597.06,88.53 L597.67,88.59 L598.26,88.73 L598.83,88.91 L599.41,89.08 L600,89.2 L600.6,89.3 L601.19,89.43 L601.79,89.56 L602.4,89.63 L603.03,89.63 L603.7,89.5 L604.43,89.27 L605.2,88.96 L606.01,88.57 L606.81,88.09 L607.58,87.5 L608.3,86.8 L608.96,86 L609.57,85.11 L610.16,84.12 L610.73,83.01 L611.31,81.78 L611.9,80.4 L612.51,78.88 L613.13,77.21 L613.74,75.42 L614.36,73.51 L614.98,71.5 L615.6,69.4 L616.23,67.07 L616.88,64.47 L617.53,61.76 L618.16,59.12 L618.76,56.71 L619.3,54.7 L619.78,53.09 L620.22,51.76 L620.62,50.66 L620.99,49.75 L621.35,48.98 L621.7,48.3 L622.03,47.74 L622.33,47.33 L622.61,47.06 L622.89,46.92 L623.18,46.9 L623.5,47 L623.84,47.18 L624.19,47.45 L624.54,47.84 L624.91,48.39 L625.3,49.13 L625.7,50.1 L626.12,51.36 L626.56,52.88 L627.01,54.6 L627.47,56.44 L627.94,58.33 L628.4,60.2 L628.86,62.12 L629.33,64.17 L629.8,66.26 L630.27,68.33 L630.74,70.3 L631.2,72.1 L631.65,73.73 L632.1,75.27 L632.54,76.71 L632.98,78.04 L633.43,79.27 L633.9,80.4 L634.36,81.37 L634.8,82.16 L635.26,82.85 L635.74,83.51 L636.28,84.2 L636.9,85 L637.61,85.92 L638.38,86.9 L639.21,87.92 L640.09,88.95 L640.99,89.95 L641.9,90.9 L642.84,91.79 L643.83,92.64 L644.84,93.46 L645.87,94.27 L646.89,95.08 L647.9,95.9 L648.89,96.71 L649.87,97.5 L650.85,98.29 L651.83,99.09 L652.81,99.92 L653.8,100.8 L654.81,101.74 L655.83,102.72 L656.86,103.74 L657.88,104.77 L658.86,105.79 L659.8,106.8 L660.68,107.76 L661.51,108.7 L662.31,109.63 L663.1,110.58 L663.89,111.6 L664.7,112.7 L665.54,113.91 L666.4,115.21 L667.26,116.58 L668.1,117.96 L668.92,119.35 L669.7,120.7 L670.44,122.06 L671.17,123.45 L671.87,124.84 L672.53,126.19 L673.14,127.45 L673.7,128.6 L674.21,129.66 L674.68,130.67 L675.1,131.59 L675.47,132.41 L675.77,133.09 L676,133.6 L676,138.3 L550.3,138.3 Z" fill="#af4b52" fill-opacity="0.15" stroke="none"/>
<line x1="550.1" y1="138.6" x2="676" y2="138.6" stroke="#e06565" stroke-width="1.0" />
<path d="M550.3,135 L550.72,134.65 L551.29,134.19 L551.96,133.62 L552.7,133 L553.46,132.35 L554.2,131.7 L554.94,131.05 L555.72,130.37 L556.52,129.67 L557.31,128.93 L558.08,128.14 L558.8,127.3 L559.46,126.41 L560.07,125.47 L560.66,124.49 L561.23,123.46 L561.81,122.4 L562.4,121.3 L563.01,120.17 L563.63,119 L564.24,117.79 L564.86,116.54 L565.48,115.25 L566.1,113.9 L566.72,112.46 L567.34,110.93 L567.96,109.35 L568.57,107.77 L569.19,106.24 L569.8,104.8 L570.4,103.41 L571,102.03 L571.6,100.7 L572.2,99.46 L572.8,98.34 L573.4,97.4 L574,96.65 L574.59,96.05 L575.19,95.59 L575.8,95.23 L576.43,94.94 L577.1,94.7 L577.8,94.57 L578.53,94.57 L579.29,94.65 L580.07,94.74 L580.87,94.78 L581.7,94.7 L582.58,94.49 L583.5,94.2 L584.45,93.86 L585.4,93.5 L586.33,93.13 L587.2,92.8 L588.02,92.5 L588.8,92.21 L589.56,91.93 L590.3,91.64 L591.04,91.33 L591.8,91 L592.58,90.6 L593.37,90.13 L594.16,89.65 L594.94,89.2 L595.69,88.83 L596.4,88.6 L597.06,88.53 L597.67,88.59 L598.26,88.73 L598.83,88.91 L599.41,89.08 L600,89.2 L600.6,89.3 L601.19,89.43 L601.79,89.56 L602.4,89.63 L603.03,89.63 L603.7,89.5 L604.43,89.27 L605.2,88.96 L606.01,88.57 L606.81,88.09 L607.58,87.5 L608.3,86.8 L608.96,86 L609.57,85.11 L610.16,84.12 L610.73,83.01 L611.31,81.78 L611.9,80.4 L612.51,78.88 L613.13,77.21 L613.74,75.42 L614.36,73.51 L614.98,71.5 L615.6,69.4 L616.23,67.07 L616.88,64.47 L617.53,61.76 L618.16,59.12 L618.76,56.71 L619.3,54.7 L619.78,53.09 L620.22,51.76 L620.62,50.66 L620.99,49.75 L621.35,48.98 L621.7,48.3 L622.03,47.74 L622.33,47.33 L622.61,47.06 L622.89,46.92 L623.18,46.9 L623.5,47 L623.84,47.18 L624.19,47.45 L624.54,47.84 L624.91,48.39 L625.3,49.13 L625.7,50.1 L626.12,51.36 L626.56,52.88 L627.01,54.6 L627.47,56.44 L627.94,58.33 L628.4,60.2 L628.86,62.12 L629.33,64.17 L629.8,66.26 L630.27,68.33 L630.74,70.3 L631.2,72.1 L631.65,73.73 L632.1,75.27 L632.54,76.71 L632.98,78.04 L633.43,79.27 L633.9,80.4 L634.36,81.37 L634.8,82.16 L635.26,82.85 L635.74,83.51 L636.28,84.2 L636.9,85 L637.61,85.92 L638.38,86.9 L639.21,87.92 L640.09,88.95 L640.99,89.95 L641.9,90.9 L642.84,91.79 L643.83,92.64 L644.84,93.46 L645.87,94.27 L646.89,95.08 L647.9,95.9 L648.89,96.71 L649.87,97.5 L650.85,98.29 L651.83,99.09 L652.81,99.92 L653.8,100.8 L654.81,101.74 L655.83,102.72 L656.86,103.74 L657.88,104.77 L658.86,105.79 L659.8,106.8 L660.68,107.76 L661.51,108.7 L662.31,109.63 L663.1,110.58 L663.89,111.6 L664.7,112.7 L665.54,113.91 L666.4,115.21 L667.26,116.58 L668.1,117.96 L668.92,119.35 L669.7,120.7 L670.44,122.06 L671.17,123.45 L671.87,124.84 L672.53,126.19 L673.14,127.45 L673.7,128.6 L674.21,129.66 L674.68,130.67 L675.1,131.59 L675.47,132.41 L675.77,133.09 L676,133.6" fill="none" stroke="#e06565" stroke-width="2.35" stroke-linejoin="round" stroke-linecap="round"/>
<rect x="548.85" y="42.35" width="2.5" height="2.5" rx="0.7" fill="#000"/>
<rect x="548.85" y="52.42" width="2.5" height="2.5" rx="0.7" fill="#000"/>
<rect x="548.85" y="62.49" width="2.5" height="2.5" rx="0.7" fill="#000"/>
<rect x="548.85" y="72.56" width="2.5" height="2.5" rx="0.7" fill="#000"/>
<rect x="548.85" y="82.63" width="2.5" height="2.5" rx="0.7" fill="#000"/>
<rect x="548.85" y="92.7" width="2.5" height="2.5" rx="0.7" fill="#000"/>
<rect x="548.85" y="102.77" width="2.5" height="2.5" rx="0.7" fill="#000"/>
<rect x="548.85" y="112.84" width="2.5" height="2.5" rx="0.7" fill="#000"/>
<rect x="548.85" y="122.91" width="2.5" height="2.5" rx="0.7" fill="#000"/>
<rect x="548.85" y="132.98" width="2.5" height="2.5" rx="0.7" fill="#000"/>
<rect x="565.59" y="42.35" width="2.5" height="2.5" rx="0.7" fill="#000"/>
<rect x="565.59" y="52.42" width="2.5" height="2.5" rx="0.7" fill="#000"/>
<rect x="565.59" y="62.49" width="2.5" height="2.5" rx="0.7" fill="#000"/>
<rect x="565.59" y="72.56" width="2.5" height="2.5" rx="0.7" fill="#000"/>
<rect x="565.59" y="82.63" width="2.5" height="2.5" rx="0.7" fill="#000"/>
<rect x="565.59" y="92.7" width="2.5" height="2.5" rx="0.7" fill="#000"/>
<rect x="565.59" y="102.77" width="2.5" height="2.5" rx="0.7" fill="#000"/>
<rect x="565.59" y="112.84" width="2.5" height="2.5" rx="0.7" fill="#000"/>
<rect x="565.59" y="122.91" width="2.5" height="2.5" rx="0.7" fill="#000"/>
<rect x="565.59" y="132.98" width="2.5" height="2.5" rx="0.7" fill="#000"/>
<rect x="621.12" y="42.35" width="2.5" height="2.5" rx="0.7" fill="#000"/>
<rect x="621.12" y="52.42" width="2.5" height="2.5" rx="0.7" fill="#000"/>
<rect x="621.12" y="62.49" width="2.5" height="2.5" rx="0.7" fill="#000"/>
<rect x="621.12" y="72.56" width="2.5" height="2.5" rx="0.7" fill="#000"/>
<rect x="621.12" y="82.63" width="2.5" height="2.5" rx="0.7" fill="#000"/>
<rect x="621.12" y="92.7" width="2.5" height="2.5" rx="0.7" fill="#000"/>
<rect x="621.12" y="102.77" width="2.5" height="2.5" rx="0.7" fill="#000"/>
<rect x="621.12" y="112.84" width="2.5" height="2.5" rx="0.7" fill="#000"/>
<rect x="621.12" y="122.91" width="2.5" height="2.5" rx="0.7" fill="#000"/>
<rect x="621.12" y="132.98" width="2.5" height="2.5" rx="0.7" fill="#000"/>
<rect x="674.75" y="42.35" width="2.5" height="2.5" rx="0.7" fill="#000"/>
<rect x="674.75" y="52.42" width="2.5" height="2.5" rx="0.7" fill="#000"/>
<rect x="674.75" y="62.49" width="2.5" height="2.5" rx="0.7" fill="#000"/>
<rect x="674.75" y="72.56" width="2.5" height="2.5" rx="0.7" fill="#000"/>
<rect x="674.75" y="82.63" width="2.5" height="2.5" rx="0.7" fill="#000"/>
<rect x="674.75" y="92.7" width="2.5" height="2.5" rx="0.7" fill="#000"/>
<rect x="674.75" y="102.77" width="2.5" height="2.5" rx="0.7" fill="#000"/>
<rect x="674.75" y="112.84" width="2.5" height="2.5" rx="0.7" fill="#000"/>
<rect x="674.75" y="122.91" width="2.5" height="2.5" rx="0.7" fill="#000"/>
<rect x="674.75" y="132.98" width="2.5" height="2.5" rx="0.7" fill="#000"/>
<line x1="549.5" y1="141.5" x2="566.84" y2="141.5" stroke="#000" stroke-width="2.2" />
<line x1="622.37" y1="141.5" x2="676.3" y2="141.5" stroke="#000" stroke-width="2.2" />
<rect x="566.84" y="140.6" width="55.52" height="1.8" rx="0.9" fill="#fff" stroke="#000" stroke-width="1.0"/>
<text x="558.47" y="146.6" font-size="5.0" fill="#222" text-anchor="middle" stroke="#222" stroke-width="0.08" font-weight="bold">5'UTR</text>
<text x="594.61" y="146.6" font-size="5.0" fill="#222" text-anchor="middle" stroke="#222" stroke-width="0.08" font-weight="bold">CDS</text>
<text x="649.18" y="146.6" font-size="5.0" fill="#222" text-anchor="middle" stroke="#222" stroke-width="0.08" font-weight="bold">3'UTR</text>
<path d="M544.3,147.2 L544.3,42.6 L681.8,42.6 L681.8,147.2 Z" fill="none" stroke="#666" stroke-width="0.9"/>
<line x1="544.3" y1="147.2" x2="681.8" y2="147.2" stroke="#444" stroke-width="1.0" />
<line x1="544.3" y1="42.6" x2="544.3" y2="147.2" stroke="#444" stroke-width="1.0" />
<line x1="542.5" y1="138.3" x2="544.3" y2="138.3" stroke="#333" stroke-width="0.8" />
<text x="541" y="140.6" font-size="7.8" fill="#222" text-anchor="end" stroke="#222" stroke-width="0.08" >0.0</text>
<line x1="542.5" y1="116.9" x2="544.3" y2="116.9" stroke="#333" stroke-width="0.8" />
<text x="541" y="119.2" font-size="7.8" fill="#222" text-anchor="end" stroke="#222" stroke-width="0.08" >0.5</text>
<line x1="542.5" y1="95.5" x2="544.3" y2="95.5" stroke="#333" stroke-width="0.8" />
<text x="541" y="97.8" font-size="7.8" fill="#222" text-anchor="end" stroke="#222" stroke-width="0.08" >1.0</text>
<line x1="542.5" y1="74.1" x2="544.3" y2="74.1" stroke="#333" stroke-width="0.8" />
<text x="541" y="76.4" font-size="7.8" fill="#222" text-anchor="end" stroke="#222" stroke-width="0.08" >1.5</text>
<line x1="542.5" y1="52.7" x2="544.3" y2="52.7" stroke="#333" stroke-width="0.8" />
<text x="541" y="55" font-size="7.8" fill="#222" text-anchor="end" stroke="#222" stroke-width="0.08" >2.0</text>
<line x1="550.1" y1="147.2" x2="550.1" y2="149" stroke="#333" stroke-width="0.8" />
<text x="550.1" y="156.9" font-size="7.7" fill="#222" text-anchor="middle" stroke="#222" stroke-width="0.08" >0.00</text>
<line x1="581.58" y1="147.2" x2="581.58" y2="149" stroke="#333" stroke-width="0.8" />
<text x="581.58" y="156.9" font-size="7.7" fill="#222" text-anchor="middle" stroke="#222" stroke-width="0.08" >0.25</text>
<line x1="613.05" y1="147.2" x2="613.05" y2="149" stroke="#333" stroke-width="0.8" />
<text x="613.05" y="156.9" font-size="7.7" fill="#222" text-anchor="middle" stroke="#222" stroke-width="0.08" >0.50</text>
<line x1="644.52" y1="147.2" x2="644.52" y2="149" stroke="#333" stroke-width="0.8" />
<text x="644.52" y="156.9" font-size="7.7" fill="#222" text-anchor="middle" stroke="#222" stroke-width="0.08" >0.75</text>
<line x1="676" y1="147.2" x2="676" y2="149" stroke="#333" stroke-width="0.8" />
<text x="676" y="156.9" font-size="7.7" fill="#222" text-anchor="middle" stroke="#222" stroke-width="0.08" >1.00</text>
<text x="431.25" y="193.8" font-size="12.8" fill="#111" text-anchor="middle" >scm6A-seq</text>
<text x="368.7" y="207.3" font-size="7.8" fill="#111" text-anchor="start" stroke="#111" stroke-width="0.08" >Distribution on mRNA</text>
<line x1="368.4" y1="307.3" x2="506.1" y2="307.3" stroke="#e5e5e5" stroke-width="1.0" />
<line x1="368.4" y1="296.03" x2="506.1" y2="296.03" stroke="#ececec" stroke-width="0.7" />
<line x1="368.4" y1="284.75" x2="506.1" y2="284.75" stroke="#e5e5e5" stroke-width="1.0" />
<line x1="368.4" y1="273.48" x2="506.1" y2="273.48" stroke="#ececec" stroke-width="0.7" />
<line x1="368.4" y1="262.2" x2="506.1" y2="262.2" stroke="#e5e5e5" stroke-width="1.0" />
<line x1="368.4" y1="250.93" x2="506.1" y2="250.93" stroke="#ececec" stroke-width="0.7" />
<line x1="368.4" y1="239.65" x2="506.1" y2="239.65" stroke="#e5e5e5" stroke-width="1.0" />
<line x1="368.4" y1="228.38" x2="506.1" y2="228.38" stroke="#ececec" stroke-width="0.7" />
<line x1="368.4" y1="217.1" x2="506.1" y2="217.1" stroke="#e5e5e5" stroke-width="1.0" />
<line x1="374.7" y1="211.3" x2="374.7" y2="316" stroke="#e5e5e5" stroke-width="1.0" />
<line x1="390.38" y1="211.3" x2="390.38" y2="316" stroke="#ececec" stroke-width="0.7" />
<line x1="406.05" y1="211.3" x2="406.05" y2="316" stroke="#e5e5e5" stroke-width="1.0" />
<line x1="421.73" y1="211.3" x2="421.73" y2="316" stroke="#ececec" stroke-width="0.7" />
<line x1="437.4" y1="211.3" x2="437.4" y2="316" stroke="#e5e5e5" stroke-width="1.0" />
<line x1="453.08" y1="211.3" x2="453.08" y2="316" stroke="#ececec" stroke-width="0.7" />
<line x1="468.75" y1="211.3" x2="468.75" y2="316" stroke="#e5e5e5" stroke-width="1.0" />
<line x1="484.43" y1="211.3" x2="484.43" y2="316" stroke="#ececec" stroke-width="0.7" />
<line x1="500.1" y1="211.3" x2="500.1" y2="316" stroke="#e5e5e5" stroke-width="1.0" />
<path d="M374.7,293.1 L374.88,291.59 L375.11,289.49 L375.4,287 L375.72,284.35 L376.06,281.74 L376.4,279.4 L376.76,277.23 L377.14,275.03 L377.54,272.89 L377.96,270.86 L378.38,269 L378.8,267.4 L379.23,266.05 L379.68,264.91 L380.14,263.96 L380.59,263.15 L381.01,262.48 L381.4,261.9 L381.74,261.44 L382.04,261.12 L382.31,260.93 L382.59,260.86 L382.87,260.88 L383.2,261 L383.56,261.23 L383.94,261.6 L384.34,262.06 L384.76,262.6 L385.18,263.19 L385.6,263.8 L386.02,264.45 L386.44,265.17 L386.87,265.94 L387.31,266.73 L387.79,267.52 L388.3,268.3 L388.85,269.07 L389.43,269.86 L390.03,270.65 L390.66,271.43 L391.32,272.18 L392,272.9 L392.71,273.56 L393.47,274.17 L394.24,274.75 L395.03,275.33 L395.82,275.94 L396.6,276.6 L397.37,277.35 L398.13,278.18 L398.9,279.04 L399.67,279.86 L400.43,280.6 L401.2,281.2 L401.95,281.66 L402.67,282.03 L403.39,282.31 L404.13,282.51 L404.93,282.64 L405.8,282.7 L406.77,282.67 L407.83,282.53 L408.94,282.32 L410.07,282.08 L411.16,281.82 L412.2,281.6 L413.17,281.36 L414.1,281.07 L415.01,280.77 L415.9,280.51 L416.79,280.34 L417.7,280.3 L418.61,280.42 L419.52,280.66 L420.42,280.98 L421.34,281.36 L422.26,281.74 L423.2,282.1 L424.18,282.48 L425.2,282.91 L426.23,283.36 L427.24,283.77 L428.21,284.1 L429.1,284.3 L429.88,284.39 L430.58,284.43 L431.23,284.38 L431.87,284.23 L432.54,283.94 L433.3,283.5 L434.16,282.89 L435.09,282.12 L436.06,281.22 L437.02,280.21 L437.95,279.13 L438.8,278 L439.59,276.79 L440.35,275.49 L441.07,274.11 L441.74,272.67 L442.35,271.2 L442.9,269.7 L443.35,268.15 L443.71,266.53 L444.01,264.87 L444.29,263.21 L444.57,261.57 L444.9,260 L445.27,258.52 L445.66,257.1 L446.05,255.71 L446.44,254.31 L446.83,252.85 L447.2,251.3 L447.55,249.65 L447.9,247.94 L448.23,246.18 L448.56,244.36 L448.88,242.5 L449.2,240.6 L449.52,238.6 L449.83,236.47 L450.13,234.31 L450.43,232.17 L450.72,230.14 L451,228.3 L451.26,226.62 L451.51,225.03 L451.74,223.55 L451.98,222.19 L452.23,220.97 L452.5,219.9 L452.8,219 L453.13,218.26 L453.47,217.66 L453.8,217.17 L454.12,216.76 L454.4,216.4 L454.63,216.1 L454.83,215.9 L455.01,215.77 L455.18,215.71 L455.37,215.73 L455.6,215.8 L455.86,215.93 L456.15,216.12 L456.45,216.38 L456.76,216.7 L457.08,217.11 L457.4,217.6 L457.72,218.2 L458.04,218.9 L458.37,219.67 L458.7,220.5 L459.05,221.35 L459.4,222.2 L459.76,223.08 L460.11,224.04 L460.48,225.02 L460.86,225.97 L461.27,226.85 L461.7,227.6 L462.17,228.22 L462.68,228.76 L463.21,229.22 L463.74,229.62 L464.28,229.97 L464.8,230.3 L465.3,230.55 L465.8,230.71 L466.3,230.83 L466.8,230.94 L467.3,231.12 L467.8,231.4 L468.3,231.78 L468.8,232.22 L469.31,232.72 L469.82,233.27 L470.35,233.86 L470.9,234.5 L471.46,235.22 L472.02,236.05 L472.6,236.92 L473.21,237.79 L473.87,238.6 L474.6,239.3 L475.41,239.86 L476.3,240.3 L477.23,240.69 L478.19,241.09 L479.16,241.53 L480.1,242.1 L481.04,242.76 L482.01,243.45 L482.99,244.21 L483.94,245.04 L484.85,245.96 L485.7,247 L486.47,248.16 L487.18,249.41 L487.84,250.77 L488.49,252.21 L489.13,253.72 L489.8,255.3 L490.5,256.94 L491.21,258.66 L491.93,260.46 L492.63,262.33 L493.29,264.27 L493.9,266.3 L494.45,268.47 L494.96,270.8 L495.44,273.2 L495.88,275.6 L496.3,277.93 L496.7,280.1 L497.07,282.14 L497.41,284.13 L497.72,286.03 L498.01,287.84 L498.31,289.54 L498.6,291.1 L498.91,292.57 L499.24,293.96 L499.57,295.24 L499.87,296.36 L500.12,297.3 L500.3,298 L500.3,307.3 L374.7,307.3 Z" fill="#af4b52" fill-opacity="0.15" stroke="none"/>
<line x1="374.7" y1="307.6" x2="500.1" y2="307.6" stroke="#e06565" stroke-width="1.0" />
<path d="M374.7,293.1 L374.88,291.59 L375.11,289.49 L375.4,287 L375.72,284.35 L376.06,281.74 L376.4,279.4 L376.76,277.23 L377.14,275.03 L377.54,272.89 L377.96,270.86 L378.38,269 L378.8,267.4 L379.23,266.05 L379.68,264.91 L380.14,263.96 L380.59,263.15 L381.01,262.48 L381.4,261.9 L381.74,261.44 L382.04,261.12 L382.31,260.93 L382.59,260.86 L382.87,260.88 L383.2,261 L383.56,261.23 L383.94,261.6 L384.34,262.06 L384.76,262.6 L385.18,263.19 L385.6,263.8 L386.02,264.45 L386.44,265.17 L386.87,265.94 L387.31,266.73 L387.79,267.52 L388.3,268.3 L388.85,269.07 L389.43,269.86 L390.03,270.65 L390.66,271.43 L391.32,272.18 L392,272.9 L392.71,273.56 L393.47,274.17 L394.24,274.75 L395.03,275.33 L395.82,275.94 L396.6,276.6 L397.37,277.35 L398.13,278.18 L398.9,279.04 L399.67,279.86 L400.43,280.6 L401.2,281.2 L401.95,281.66 L402.67,282.03 L403.39,282.31 L404.13,282.51 L404.93,282.64 L405.8,282.7 L406.77,282.67 L407.83,282.53 L408.94,282.32 L410.07,282.08 L411.16,281.82 L412.2,281.6 L413.17,281.36 L414.1,281.07 L415.01,280.77 L415.9,280.51 L416.79,280.34 L417.7,280.3 L418.61,280.42 L419.52,280.66 L420.42,280.98 L421.34,281.36 L422.26,281.74 L423.2,282.1 L424.18,282.48 L425.2,282.91 L426.23,283.36 L427.24,283.77 L428.21,284.1 L429.1,284.3 L429.88,284.39 L430.58,284.43 L431.23,284.38 L431.87,284.23 L432.54,283.94 L433.3,283.5 L434.16,282.89 L435.09,282.12 L436.06,281.22 L437.02,280.21 L437.95,279.13 L438.8,278 L439.59,276.79 L440.35,275.49 L441.07,274.11 L441.74,272.67 L442.35,271.2 L442.9,269.7 L443.35,268.15 L443.71,266.53 L444.01,264.87 L444.29,263.21 L444.57,261.57 L444.9,260 L445.27,258.52 L445.66,257.1 L446.05,255.71 L446.44,254.31 L446.83,252.85 L447.2,251.3 L447.55,249.65 L447.9,247.94 L448.23,246.18 L448.56,244.36 L448.88,242.5 L449.2,240.6 L449.52,238.6 L449.83,236.47 L450.13,234.31 L450.43,232.17 L450.72,230.14 L451,228.3 L451.26,226.62 L451.51,225.03 L451.74,223.55 L451.98,222.19 L452.23,220.97 L452.5,219.9 L452.8,219 L453.13,218.26 L453.47,217.66 L453.8,217.17 L454.12,216.76 L454.4,216.4 L454.63,216.1 L454.83,215.9 L455.01,215.77 L455.18,215.71 L455.37,215.73 L455.6,215.8 L455.86,215.93 L456.15,216.12 L456.45,216.38 L456.76,216.7 L457.08,217.11 L457.4,217.6 L457.72,218.2 L458.04,218.9 L458.37,219.67 L458.7,220.5 L459.05,221.35 L459.4,222.2 L459.76,223.08 L460.11,224.04 L460.48,225.02 L460.86,225.97 L461.27,226.85 L461.7,227.6 L462.17,228.22 L462.68,228.76 L463.21,229.22 L463.74,229.62 L464.28,229.97 L464.8,230.3 L465.3,230.55 L465.8,230.71 L466.3,230.83 L466.8,230.94 L467.3,231.12 L467.8,231.4 L468.3,231.78 L468.8,232.22 L469.31,232.72 L469.82,233.27 L470.35,233.86 L470.9,234.5 L471.46,235.22 L472.02,236.05 L472.6,236.92 L473.21,237.79 L473.87,238.6 L474.6,239.3 L475.41,239.86 L476.3,240.3 L477.23,240.69 L478.19,241.09 L479.16,241.53 L480.1,242.1 L481.04,242.76 L482.01,243.45 L482.99,244.21 L483.94,245.04 L484.85,245.96 L485.7,247 L486.47,248.16 L487.18,249.41 L487.84,250.77 L488.49,252.21 L489.13,253.72 L489.8,255.3 L490.5,256.94 L491.21,258.66 L491.93,260.46 L492.63,262.33 L493.29,264.27 L493.9,266.3 L494.45,268.47 L494.96,270.8 L495.44,273.2 L495.88,275.6 L496.3,277.93 L496.7,280.1 L497.07,282.14 L497.41,284.13 L497.72,286.03 L498.01,287.84 L498.31,289.54 L498.6,291.1 L498.91,292.57 L499.24,293.96 L499.57,295.24 L499.87,296.36 L500.12,297.3 L500.3,298" fill="none" stroke="#e06565" stroke-width="2.35" stroke-linejoin="round" stroke-linecap="round"/>
<rect x="373.45" y="211.05" width="2.5" height="2.5" rx="0.7" fill="#000"/>
<rect x="373.45" y="221.12" width="2.5" height="2.5" rx="0.7" fill="#000"/>
<rect x="373.45" y="231.19" width="2.5" height="2.5" rx="0.7" fill="#000"/>
<rect x="373.45" y="241.26" width="2.5" height="2.5" rx="0.7" fill="#000"/>
<rect x="373.45" y="251.33" width="2.5" height="2.5" rx="0.7" fill="#000"/>
<rect x="373.45" y="261.4" width="2.5" height="2.5" rx="0.7" fill="#000"/>
<rect x="373.45" y="271.47" width="2.5" height="2.5" rx="0.7" fill="#000"/>
<rect x="373.45" y="281.54" width="2.5" height="2.5" rx="0.7" fill="#000"/>
<rect x="373.45" y="291.61" width="2.5" height="2.5" rx="0.7" fill="#000"/>
<rect x="373.45" y="301.68" width="2.5" height="2.5" rx="0.7" fill="#000"/>
<rect x="386.99" y="211.05" width="2.5" height="2.5" rx="0.7" fill="#000"/>
<rect x="386.99" y="221.12" width="2.5" height="2.5" rx="0.7" fill="#000"/>
<rect x="386.99" y="231.19" width="2.5" height="2.5" rx="0.7" fill="#000"/>
<rect x="386.99" y="241.26" width="2.5" height="2.5" rx="0.7" fill="#000"/>
<rect x="386.99" y="251.33" width="2.5" height="2.5" rx="0.7" fill="#000"/>
<rect x="386.99" y="261.4" width="2.5" height="2.5" rx="0.7" fill="#000"/>
<rect x="386.99" y="271.47" width="2.5" height="2.5" rx="0.7" fill="#000"/>
<rect x="386.99" y="281.54" width="2.5" height="2.5" rx="0.7" fill="#000"/>
<rect x="386.99" y="291.61" width="2.5" height="2.5" rx="0.7" fill="#000"/>
<rect x="386.99" y="301.68" width="2.5" height="2.5" rx="0.7" fill="#000"/>
<rect x="448.69" y="211.05" width="2.5" height="2.5" rx="0.7" fill="#000"/>
<rect x="448.69" y="221.12" width="2.5" height="2.5" rx="0.7" fill="#000"/>
<rect x="448.69" y="231.19" width="2.5" height="2.5" rx="0.7" fill="#000"/>
<rect x="448.69" y="241.26" width="2.5" height="2.5" rx="0.7" fill="#000"/>
<rect x="448.69" y="251.33" width="2.5" height="2.5" rx="0.7" fill="#000"/>
<rect x="448.69" y="261.4" width="2.5" height="2.5" rx="0.7" fill="#000"/>
<rect x="448.69" y="271.47" width="2.5" height="2.5" rx="0.7" fill="#000"/>
<rect x="448.69" y="281.54" width="2.5" height="2.5" rx="0.7" fill="#000"/>
<rect x="448.69" y="291.61" width="2.5" height="2.5" rx="0.7" fill="#000"/>
<rect x="448.69" y="301.68" width="2.5" height="2.5" rx="0.7" fill="#000"/>
<rect x="498.85" y="211.05" width="2.5" height="2.5" rx="0.7" fill="#000"/>
<rect x="498.85" y="221.12" width="2.5" height="2.5" rx="0.7" fill="#000"/>
<rect x="498.85" y="231.19" width="2.5" height="2.5" rx="0.7" fill="#000"/>
<rect x="498.85" y="241.26" width="2.5" height="2.5" rx="0.7" fill="#000"/>
<rect x="498.85" y="251.33" width="2.5" height="2.5" rx="0.7" fill="#000"/>
<rect x="498.85" y="261.4" width="2.5" height="2.5" rx="0.7" fill="#000"/>
<rect x="498.85" y="271.47" width="2.5" height="2.5" rx="0.7" fill="#000"/>
<rect x="498.85" y="281.54" width="2.5" height="2.5" rx="0.7" fill="#000"/>
<rect x="498.85" y="291.61" width="2.5" height="2.5" rx="0.7" fill="#000"/>
<rect x="498.85" y="301.68" width="2.5" height="2.5" rx="0.7" fill="#000"/>
<line x1="374.1" y1="310.5" x2="388.24" y2="310.5" stroke="#000" stroke-width="2.2" />
<line x1="449.94" y1="310.5" x2="500.4" y2="310.5" stroke="#000" stroke-width="2.2" />
<rect x="388.24" y="309.6" width="61.7" height="1.8" rx="0.9" fill="#fff" stroke="#000" stroke-width="1.0"/>
<text x="381.47" y="315.4" font-size="5.0" fill="#222" text-anchor="middle" stroke="#222" stroke-width="0.08" font-weight="bold">5'UTR</text>
<text x="419.09" y="315.4" font-size="5.0" fill="#222" text-anchor="middle" stroke="#222" stroke-width="0.08" font-weight="bold">CDS</text>
<text x="475.02" y="315.4" font-size="5.0" fill="#222" text-anchor="middle" stroke="#222" stroke-width="0.08" font-weight="bold">3'UTR</text>
<path d="M368.4,316 L368.4,211.3 L506.1,211.3 L506.1,316 Z" fill="none" stroke="#666" stroke-width="0.9"/>
<line x1="368.4" y1="316" x2="506.1" y2="316" stroke="#444" stroke-width="1.0" />
<line x1="368.4" y1="211.3" x2="368.4" y2="316" stroke="#444" stroke-width="1.0" />
<line x1="366.6" y1="307.3" x2="368.4" y2="307.3" stroke="#333" stroke-width="0.8" />
<text x="365.1" y="309.6" font-size="7.8" fill="#222" text-anchor="end" stroke="#222" stroke-width="0.08" >0.0</text>
<line x1="366.6" y1="284.75" x2="368.4" y2="284.75" stroke="#333" stroke-width="0.8" />
<text x="365.1" y="287.05" font-size="7.8" fill="#222" text-anchor="end" stroke="#222" stroke-width="0.08" >0.5</text>
<line x1="366.6" y1="262.2" x2="368.4" y2="262.2" stroke="#333" stroke-width="0.8" />
<text x="365.1" y="264.5" font-size="7.8" fill="#222" text-anchor="end" stroke="#222" stroke-width="0.08" >1.0</text>
<line x1="366.6" y1="239.65" x2="368.4" y2="239.65" stroke="#333" stroke-width="0.8" />
<text x="365.1" y="241.95" font-size="7.8" fill="#222" text-anchor="end" stroke="#222" stroke-width="0.08" >1.5</text>
<line x1="366.6" y1="217.1" x2="368.4" y2="217.1" stroke="#333" stroke-width="0.8" />
<text x="365.1" y="219.4" font-size="7.8" fill="#222" text-anchor="end" stroke="#222" stroke-width="0.08" >2.0</text>
<line x1="374.7" y1="316" x2="374.7" y2="317.8" stroke="#333" stroke-width="0.8" />
<text x="374.7" y="325.7" font-size="7.7" fill="#222" text-anchor="middle" stroke="#222" stroke-width="0.08" >0.00</text>
<line x1="406.05" y1="316" x2="406.05" y2="317.8" stroke="#333" stroke-width="0.8" />
<text x="406.05" y="325.7" font-size="7.7" fill="#222" text-anchor="middle" stroke="#222" stroke-width="0.08" >0.25</text>
<line x1="437.4" y1="316" x2="437.4" y2="317.8" stroke="#333" stroke-width="0.8" />
<text x="437.4" y="325.7" font-size="7.7" fill="#222" text-anchor="middle" stroke="#222" stroke-width="0.08" >0.50</text>
<line x1="468.75" y1="316" x2="468.75" y2="317.8" stroke="#333" stroke-width="0.8" />
<text x="468.75" y="325.7" font-size="7.7" fill="#222" text-anchor="middle" stroke="#222" stroke-width="0.08" >0.75</text>
<line x1="500.1" y1="316" x2="500.1" y2="317.8" stroke="#333" stroke-width="0.8" />
<text x="500.1" y="325.7" font-size="7.7" fill="#222" text-anchor="middle" stroke="#222" stroke-width="0.08" >1.00</text>
<text x="607.15" y="193.8" font-size="12.8" fill="#111" text-anchor="middle" >sn-m6A-CT</text>
<text x="544.6" y="207.3" font-size="7.8" fill="#111" text-anchor="start" stroke="#111" stroke-width="0.08" >Distribution on mRNA</text>
<line x1="544.3" y1="307.3" x2="682" y2="307.3" stroke="#e5e5e5" stroke-width="1.0" />
<line x1="544.3" y1="292.68" x2="682" y2="292.68" stroke="#ececec" stroke-width="0.7" />
<line x1="544.3" y1="278.05" x2="682" y2="278.05" stroke="#e5e5e5" stroke-width="1.0" />
<line x1="544.3" y1="263.43" x2="682" y2="263.43" stroke="#ececec" stroke-width="0.7" />
<line x1="544.3" y1="248.8" x2="682" y2="248.8" stroke="#e5e5e5" stroke-width="1.0" />
<line x1="544.3" y1="234.18" x2="682" y2="234.18" stroke="#ececec" stroke-width="0.7" />
<line x1="544.3" y1="219.55" x2="682" y2="219.55" stroke="#e5e5e5" stroke-width="1.0" />
<line x1="550.5" y1="211.3" x2="550.5" y2="316" stroke="#e5e5e5" stroke-width="1.0" />
<line x1="566.15" y1="211.3" x2="566.15" y2="316" stroke="#ececec" stroke-width="0.7" />
<line x1="581.8" y1="211.3" x2="581.8" y2="316" stroke="#e5e5e5" stroke-width="1.0" />
<line x1="597.45" y1="211.3" x2="597.45" y2="316" stroke="#ececec" stroke-width="0.7" />
<line x1="613.1" y1="211.3" x2="613.1" y2="316" stroke="#e5e5e5" stroke-width="1.0" />
<line x1="628.75" y1="211.3" x2="628.75" y2="316" stroke="#ececec" stroke-width="0.7" />
<line x1="644.4" y1="211.3" x2="644.4" y2="316" stroke="#e5e5e5" stroke-width="1.0" />
<line x1="660.05" y1="211.3" x2="660.05" y2="316" stroke="#ececec" stroke-width="0.7" />
<line x1="675.7" y1="211.3" x2="675.7" y2="316" stroke="#e5e5e5" stroke-width="1.0" />
<path d="M550.6,298.5 L550.85,297.43 L551.19,295.97 L551.6,294.23 L552.04,292.34 L552.48,290.42 L552.9,288.6 L553.29,286.88 L553.69,285.15 L554.08,283.4 L554.48,281.59 L554.89,279.7 L555.3,277.7 L555.72,275.53 L556.15,273.21 L556.59,270.81 L557.03,268.4 L557.46,266.04 L557.9,263.8 L558.34,261.61 L558.77,259.41 L559.21,257.26 L559.65,255.24 L560.08,253.43 L560.5,251.9 L560.91,250.69 L561.3,249.74 L561.68,248.99 L562.07,248.41 L562.47,247.93 L562.9,247.5 L563.35,247.2 L563.83,247.07 L564.31,247.04 L564.81,247.06 L565.31,247.03 L565.8,246.9 L566.28,246.65 L566.76,246.34 L567.23,246 L567.72,245.64 L568.24,245.3 L568.8,245 L569.41,244.69 L570.08,244.34 L570.77,244.01 L571.47,243.74 L572.15,243.59 L572.8,243.6 L573.42,243.86 L574.04,244.34 L574.65,244.94 L575.23,245.54 L575.79,246.03 L576.3,246.3 L576.77,246.36 L577.2,246.3 L577.59,246.13 L577.97,245.86 L578.34,245.48 L578.7,245 L579.06,244.43 L579.41,243.76 L579.75,242.98 L580.08,242.1 L580.39,241.11 L580.7,240 L580.99,238.75 L581.25,237.36 L581.51,235.86 L581.76,234.27 L582.02,232.64 L582.3,231 L582.59,229.24 L582.9,227.32 L583.21,225.36 L583.53,223.46 L583.86,221.73 L584.2,220.3 L584.56,219.16 L584.94,218.21 L585.33,217.45 L585.72,216.84 L586.11,216.36 L586.5,216 L586.88,215.78 L587.27,215.72 L587.65,215.79 L588.03,215.97 L588.42,216.22 L588.8,216.5 L589.18,216.87 L589.56,217.37 L589.93,217.93 L590.31,218.51 L590.7,219.05 L591.1,219.5 L591.51,219.89 L591.94,220.27 L592.38,220.61 L592.81,220.89 L593.26,221.06 L593.7,221.1 L594.14,220.96 L594.58,220.67 L595.02,220.27 L595.47,219.83 L595.93,219.42 L596.4,219.1 L596.89,218.84 L597.4,218.59 L597.92,218.36 L598.45,218.17 L598.98,218.05 L599.5,218 L600.02,218.06 L600.54,218.23 L601.06,218.46 L601.57,218.7 L602.09,218.93 L602.6,219.1 L603.1,219.23 L603.6,219.36 L604.1,219.46 L604.6,219.53 L605.1,219.55 L605.6,219.5 L606.12,219.35 L606.66,219.11 L607.19,218.82 L607.72,218.51 L608.23,218.23 L608.7,218 L609.13,217.8 L609.53,217.6 L609.9,217.42 L610.26,217.29 L610.63,217.24 L611,217.3 L611.38,217.48 L611.77,217.77 L612.15,218.13 L612.53,218.56 L612.92,219.02 L613.3,219.5 L613.68,220.04 L614.07,220.66 L614.45,221.32 L614.83,221.98 L615.22,222.59 L615.6,223.1 L615.98,223.5 L616.34,223.83 L616.71,224.11 L617.08,224.37 L617.48,224.62 L617.9,224.9 L618.36,225.2 L618.84,225.51 L619.35,225.81 L619.87,226.11 L620.39,226.41 L620.9,226.7 L621.41,226.97 L621.93,227.23 L622.44,227.49 L622.96,227.74 L623.48,228.01 L624,228.3 L624.53,228.59 L625.06,228.87 L625.6,229.16 L626.13,229.49 L626.63,229.86 L627.1,230.3 L627.52,230.77 L627.9,231.24 L628.26,231.77 L628.61,232.39 L628.99,233.15 L629.4,234.1 L629.84,235.28 L630.28,236.68 L630.74,238.21 L631.23,239.82 L631.78,241.44 L632.4,243 L633.11,244.55 L633.89,246.16 L634.73,247.78 L635.6,249.35 L636.46,250.84 L637.3,252.2 L638.12,253.4 L638.94,254.46 L639.76,255.44 L640.57,256.38 L641.39,257.32 L642.2,258.3 L643,259.3 L643.8,260.29 L644.59,261.27 L645.39,262.27 L646.19,263.31 L647,264.4 L647.82,265.57 L648.66,266.82 L649.49,268.1 L650.33,269.38 L651.17,270.63 L652,271.8 L652.84,272.88 L653.69,273.89 L654.54,274.86 L655.37,275.83 L656.16,276.83 L656.9,277.9 L657.57,279.09 L658.19,280.38 L658.77,281.7 L659.34,282.99 L659.91,284.18 L660.5,285.2 L661.11,286.01 L661.73,286.66 L662.34,287.2 L662.96,287.71 L663.58,288.26 L664.2,288.9 L664.82,289.62 L665.43,290.35 L666.05,291.12 L666.67,291.94 L667.28,292.82 L667.9,293.8 L668.51,294.92 L669.11,296.17 L669.72,297.49 L670.33,298.81 L670.95,300.07 L671.6,301.2 L672.32,302.24 L673.12,303.26 L673.93,304.21 L674.69,305.06 L675.34,305.77 L675.8,306.3 L675.8,307.3 L550.6,307.3 Z" fill="#af4b52" fill-opacity="0.15" stroke="none"/>
<line x1="550.5" y1="307.6" x2="675.7" y2="307.6" stroke="#e06565" stroke-width="1.0" />
<path d="M550.6,298.5 L550.85,297.43 L551.19,295.97 L551.6,294.23 L552.04,292.34 L552.48,290.42 L552.9,288.6 L553.29,286.88 L553.69,285.15 L554.08,283.4 L554.48,281.59 L554.89,279.7 L555.3,277.7 L555.72,275.53 L556.15,273.21 L556.59,270.81 L557.03,268.4 L557.46,266.04 L557.9,263.8 L558.34,261.61 L558.77,259.41 L559.21,257.26 L559.65,255.24 L560.08,253.43 L560.5,251.9 L560.91,250.69 L561.3,249.74 L561.68,248.99 L562.07,248.41 L562.47,247.93 L562.9,247.5 L563.35,247.2 L563.83,247.07 L564.31,247.04 L564.81,247.06 L565.31,247.03 L565.8,246.9 L566.28,246.65 L566.76,246.34 L567.23,246 L567.72,245.64 L568.24,245.3 L568.8,245 L569.41,244.69 L570.08,244.34 L570.77,244.01 L571.47,243.74 L572.15,243.59 L572.8,243.6 L573.42,243.86 L574.04,244.34 L574.65,244.94 L575.23,245.54 L575.79,246.03 L576.3,246.3 L576.77,246.36 L577.2,246.3 L577.59,246.13 L577.97,245.86 L578.34,245.48 L578.7,245 L579.06,244.43 L579.41,243.76 L579.75,242.98 L580.08,242.1 L580.39,241.11 L580.7,240 L580.99,238.75 L581.25,237.36 L581.51,235.86 L581.76,234.27 L582.02,232.64 L582.3,231 L582.59,229.24 L582.9,227.32 L583.21,225.36 L583.53,223.46 L583.86,221.73 L584.2,220.3 L584.56,219.16 L584.94,218.21 L585.33,217.45 L585.72,216.84 L586.11,216.36 L586.5,216 L586.88,215.78 L587.27,215.72 L587.65,215.79 L588.03,215.97 L588.42,216.22 L588.8,216.5 L589.18,216.87 L589.56,217.37 L589.93,217.93 L590.31,218.51 L590.7,219.05 L591.1,219.5 L591.51,219.89 L591.94,220.27 L592.38,220.61 L592.81,220.89 L593.26,221.06 L593.7,221.1 L594.14,220.96 L594.58,220.67 L595.02,220.27 L595.47,219.83 L595.93,219.42 L596.4,219.1 L596.89,218.84 L597.4,218.59 L597.92,218.36 L598.45,218.17 L598.98,218.05 L599.5,218 L600.02,218.06 L600.54,218.23 L601.06,218.46 L601.57,218.7 L602.09,218.93 L602.6,219.1 L603.1,219.23 L603.6,219.36 L604.1,219.46 L604.6,219.53 L605.1,219.55 L605.6,219.5 L606.12,219.35 L606.66,219.11 L607.19,218.82 L607.72,218.51 L608.23,218.23 L608.7,218 L609.13,217.8 L609.53,217.6 L609.9,217.42 L610.26,217.29 L610.63,217.24 L611,217.3 L611.38,217.48 L611.77,217.77 L612.15,218.13 L612.53,218.56 L612.92,219.02 L613.3,219.5 L613.68,220.04 L614.07,220.66 L614.45,221.32 L614.83,221.98 L615.22,222.59 L615.6,223.1 L615.98,223.5 L616.34,223.83 L616.71,224.11 L617.08,224.37 L617.48,224.62 L617.9,224.9 L618.36,225.2 L618.84,225.51 L619.35,225.81 L619.87,226.11 L620.39,226.41 L620.9,226.7 L621.41,226.97 L621.93,227.23 L622.44,227.49 L622.96,227.74 L623.48,228.01 L624,228.3 L624.53,228.59 L625.06,228.87 L625.6,229.16 L626.13,229.49 L626.63,229.86 L627.1,230.3 L627.52,230.77 L627.9,231.24 L628.26,231.77 L628.61,232.39 L628.99,233.15 L629.4,234.1 L629.84,235.28 L630.28,236.68 L630.74,238.21 L631.23,239.82 L631.78,241.44 L632.4,243 L633.11,244.55 L633.89,246.16 L634.73,247.78 L635.6,249.35 L636.46,250.84 L637.3,252.2 L638.12,253.4 L638.94,254.46 L639.76,255.44 L640.57,256.38 L641.39,257.32 L642.2,258.3 L643,259.3 L643.8,260.29 L644.59,261.27 L645.39,262.27 L646.19,263.31 L647,264.4 L647.82,265.57 L648.66,266.82 L649.49,268.1 L650.33,269.38 L651.17,270.63 L652,271.8 L652.84,272.88 L653.69,273.89 L654.54,274.86 L655.37,275.83 L656.16,276.83 L656.9,277.9 L657.57,279.09 L658.19,280.38 L658.77,281.7 L659.34,282.99 L659.91,284.18 L660.5,285.2 L661.11,286.01 L661.73,286.66 L662.34,287.2 L662.96,287.71 L663.58,288.26 L664.2,288.9 L664.82,289.62 L665.43,290.35 L666.05,291.12 L666.67,291.94 L667.28,292.82 L667.9,293.8 L668.51,294.92 L669.11,296.17 L669.72,297.49 L670.33,298.81 L670.95,300.07 L671.6,301.2 L672.32,302.24 L673.12,303.26 L673.93,304.21 L674.69,305.06 L675.34,305.77 L675.8,306.3" fill="none" stroke="#e06565" stroke-width="2.35" stroke-linejoin="round" stroke-linecap="round"/>
<rect x="549.25" y="211.05" width="2.5" height="2.5" rx="0.7" fill="#000"/>
<rect x="549.25" y="221.12" width="2.5" height="2.5" rx="0.7" fill="#000"/>
<rect x="549.25" y="231.19" width="2.5" height="2.5" rx="0.7" fill="#000"/>
<rect x="549.25" y="241.26" width="2.5" height="2.5" rx="0.7" fill="#000"/>
<rect x="549.25" y="251.33" width="2.5" height="2.5" rx="0.7" fill="#000"/>
<rect x="549.25" y="261.4" width="2.5" height="2.5" rx="0.7" fill="#000"/>
<rect x="549.25" y="271.47" width="2.5" height="2.5" rx="0.7" fill="#000"/>
<rect x="549.25" y="281.54" width="2.5" height="2.5" rx="0.7" fill="#000"/>
<rect x="549.25" y="291.61" width="2.5" height="2.5" rx="0.7" fill="#000"/>
<rect x="549.25" y="301.68" width="2.5" height="2.5" rx="0.7" fill="#000"/>
<rect x="563.02" y="211.05" width="2.5" height="2.5" rx="0.7" fill="#000"/>
<rect x="563.02" y="221.12" width="2.5" height="2.5" rx="0.7" fill="#000"/>
<rect x="563.02" y="231.19" width="2.5" height="2.5" rx="0.7" fill="#000"/>
<rect x="563.02" y="241.26" width="2.5" height="2.5" rx="0.7" fill="#000"/>
<rect x="563.02" y="251.33" width="2.5" height="2.5" rx="0.7" fill="#000"/>
<rect x="563.02" y="261.4" width="2.5" height="2.5" rx="0.7" fill="#000"/>
<rect x="563.02" y="271.47" width="2.5" height="2.5" rx="0.7" fill="#000"/>
<rect x="563.02" y="281.54" width="2.5" height="2.5" rx="0.7" fill="#000"/>
<rect x="563.02" y="291.61" width="2.5" height="2.5" rx="0.7" fill="#000"/>
<rect x="563.02" y="301.68" width="2.5" height="2.5" rx="0.7" fill="#000"/>
<rect x="624.87" y="211.05" width="2.5" height="2.5" rx="0.7" fill="#000"/>
<rect x="624.87" y="221.12" width="2.5" height="2.5" rx="0.7" fill="#000"/>
<rect x="624.87" y="231.19" width="2.5" height="2.5" rx="0.7" fill="#000"/>
<rect x="624.87" y="241.26" width="2.5" height="2.5" rx="0.7" fill="#000"/>
<rect x="624.87" y="251.33" width="2.5" height="2.5" rx="0.7" fill="#000"/>
<rect x="624.87" y="261.4" width="2.5" height="2.5" rx="0.7" fill="#000"/>
<rect x="624.87" y="271.47" width="2.5" height="2.5" rx="0.7" fill="#000"/>
<rect x="624.87" y="281.54" width="2.5" height="2.5" rx="0.7" fill="#000"/>
<rect x="624.87" y="291.61" width="2.5" height="2.5" rx="0.7" fill="#000"/>
<rect x="624.87" y="301.68" width="2.5" height="2.5" rx="0.7" fill="#000"/>
<rect x="674.45" y="211.05" width="2.5" height="2.5" rx="0.7" fill="#000"/>
<rect x="674.45" y="221.12" width="2.5" height="2.5" rx="0.7" fill="#000"/>
<rect x="674.45" y="231.19" width="2.5" height="2.5" rx="0.7" fill="#000"/>
<rect x="674.45" y="241.26" width="2.5" height="2.5" rx="0.7" fill="#000"/>
<rect x="674.45" y="251.33" width="2.5" height="2.5" rx="0.7" fill="#000"/>
<rect x="674.45" y="261.4" width="2.5" height="2.5" rx="0.7" fill="#000"/>
<rect x="674.45" y="271.47" width="2.5" height="2.5" rx="0.7" fill="#000"/>
<rect x="674.45" y="281.54" width="2.5" height="2.5" rx="0.7" fill="#000"/>
<rect x="674.45" y="291.61" width="2.5" height="2.5" rx="0.7" fill="#000"/>
<rect x="674.45" y="301.68" width="2.5" height="2.5" rx="0.7" fill="#000"/>
<line x1="549.9" y1="310.5" x2="564.27" y2="310.5" stroke="#000" stroke-width="2.2" />
<line x1="626.12" y1="310.5" x2="676" y2="310.5" stroke="#000" stroke-width="2.2" />
<rect x="564.27" y="309.6" width="61.85" height="1.8" rx="0.9" fill="#fff" stroke="#000" stroke-width="1.0"/>
<text x="557.39" y="315.4" font-size="5.0" fill="#222" text-anchor="middle" stroke="#222" stroke-width="0.08" font-weight="bold">5'UTR</text>
<text x="595.2" y="315.4" font-size="5.0" fill="#222" text-anchor="middle" stroke="#222" stroke-width="0.08" font-weight="bold">CDS</text>
<text x="650.91" y="315.4" font-size="5.0" fill="#222" text-anchor="middle" stroke="#222" stroke-width="0.08" font-weight="bold">3'UTR</text>
<path d="M544.3,316 L544.3,211.3 L682,211.3 L682,316 Z" fill="none" stroke="#666" stroke-width="0.9"/>
<line x1="544.3" y1="316" x2="682" y2="316" stroke="#444" stroke-width="1.0" />
<line x1="544.3" y1="211.3" x2="544.3" y2="316" stroke="#444" stroke-width="1.0" />
<line x1="542.5" y1="307.3" x2="544.3" y2="307.3" stroke="#333" stroke-width="0.8" />
<text x="541" y="309.6" font-size="7.8" fill="#222" text-anchor="end" stroke="#222" stroke-width="0.08" >0.0</text>
<line x1="542.5" y1="278.05" x2="544.3" y2="278.05" stroke="#333" stroke-width="0.8" />
<text x="541" y="280.35" font-size="7.8" fill="#222" text-anchor="end" stroke="#222" stroke-width="0.08" >0.5</text>
<line x1="542.5" y1="248.8" x2="544.3" y2="248.8" stroke="#333" stroke-width="0.8" />
<text x="541" y="251.1" font-size="7.8" fill="#222" text-anchor="end" stroke="#222" stroke-width="0.08" >1.0</text>
<line x1="542.5" y1="219.55" x2="544.3" y2="219.55" stroke="#333" stroke-width="0.8" />
<text x="541" y="221.85" font-size="7.8" fill="#222" text-anchor="end" stroke="#222" stroke-width="0.08" >1.5</text>
<line x1="550.5" y1="316" x2="550.5" y2="317.8" stroke="#333" stroke-width="0.8" />
<text x="550.5" y="325.7" font-size="7.7" fill="#222" text-anchor="middle" stroke="#222" stroke-width="0.08" >0.00</text>
<line x1="581.8" y1="316" x2="581.8" y2="317.8" stroke="#333" stroke-width="0.8" />
<text x="581.8" y="325.7" font-size="7.7" fill="#222" text-anchor="middle" stroke="#222" stroke-width="0.08" >0.25</text>
<line x1="613.1" y1="316" x2="613.1" y2="317.8" stroke="#333" stroke-width="0.8" />
<text x="613.1" y="325.7" font-size="7.7" fill="#222" text-anchor="middle" stroke="#222" stroke-width="0.08" >0.50</text>
<line x1="644.4" y1="316" x2="644.4" y2="317.8" stroke="#333" stroke-width="0.8" />
<text x="644.4" y="325.7" font-size="7.7" fill="#222" text-anchor="middle" stroke="#222" stroke-width="0.08" >0.75</text>
<line x1="675.7" y1="316" x2="675.7" y2="317.8" stroke="#333" stroke-width="0.8" />
<text x="675.7" y="325.7" font-size="7.7" fill="#222" text-anchor="middle" stroke="#222" stroke-width="0.08" >1.00</text>
</svg>
</body></html>
